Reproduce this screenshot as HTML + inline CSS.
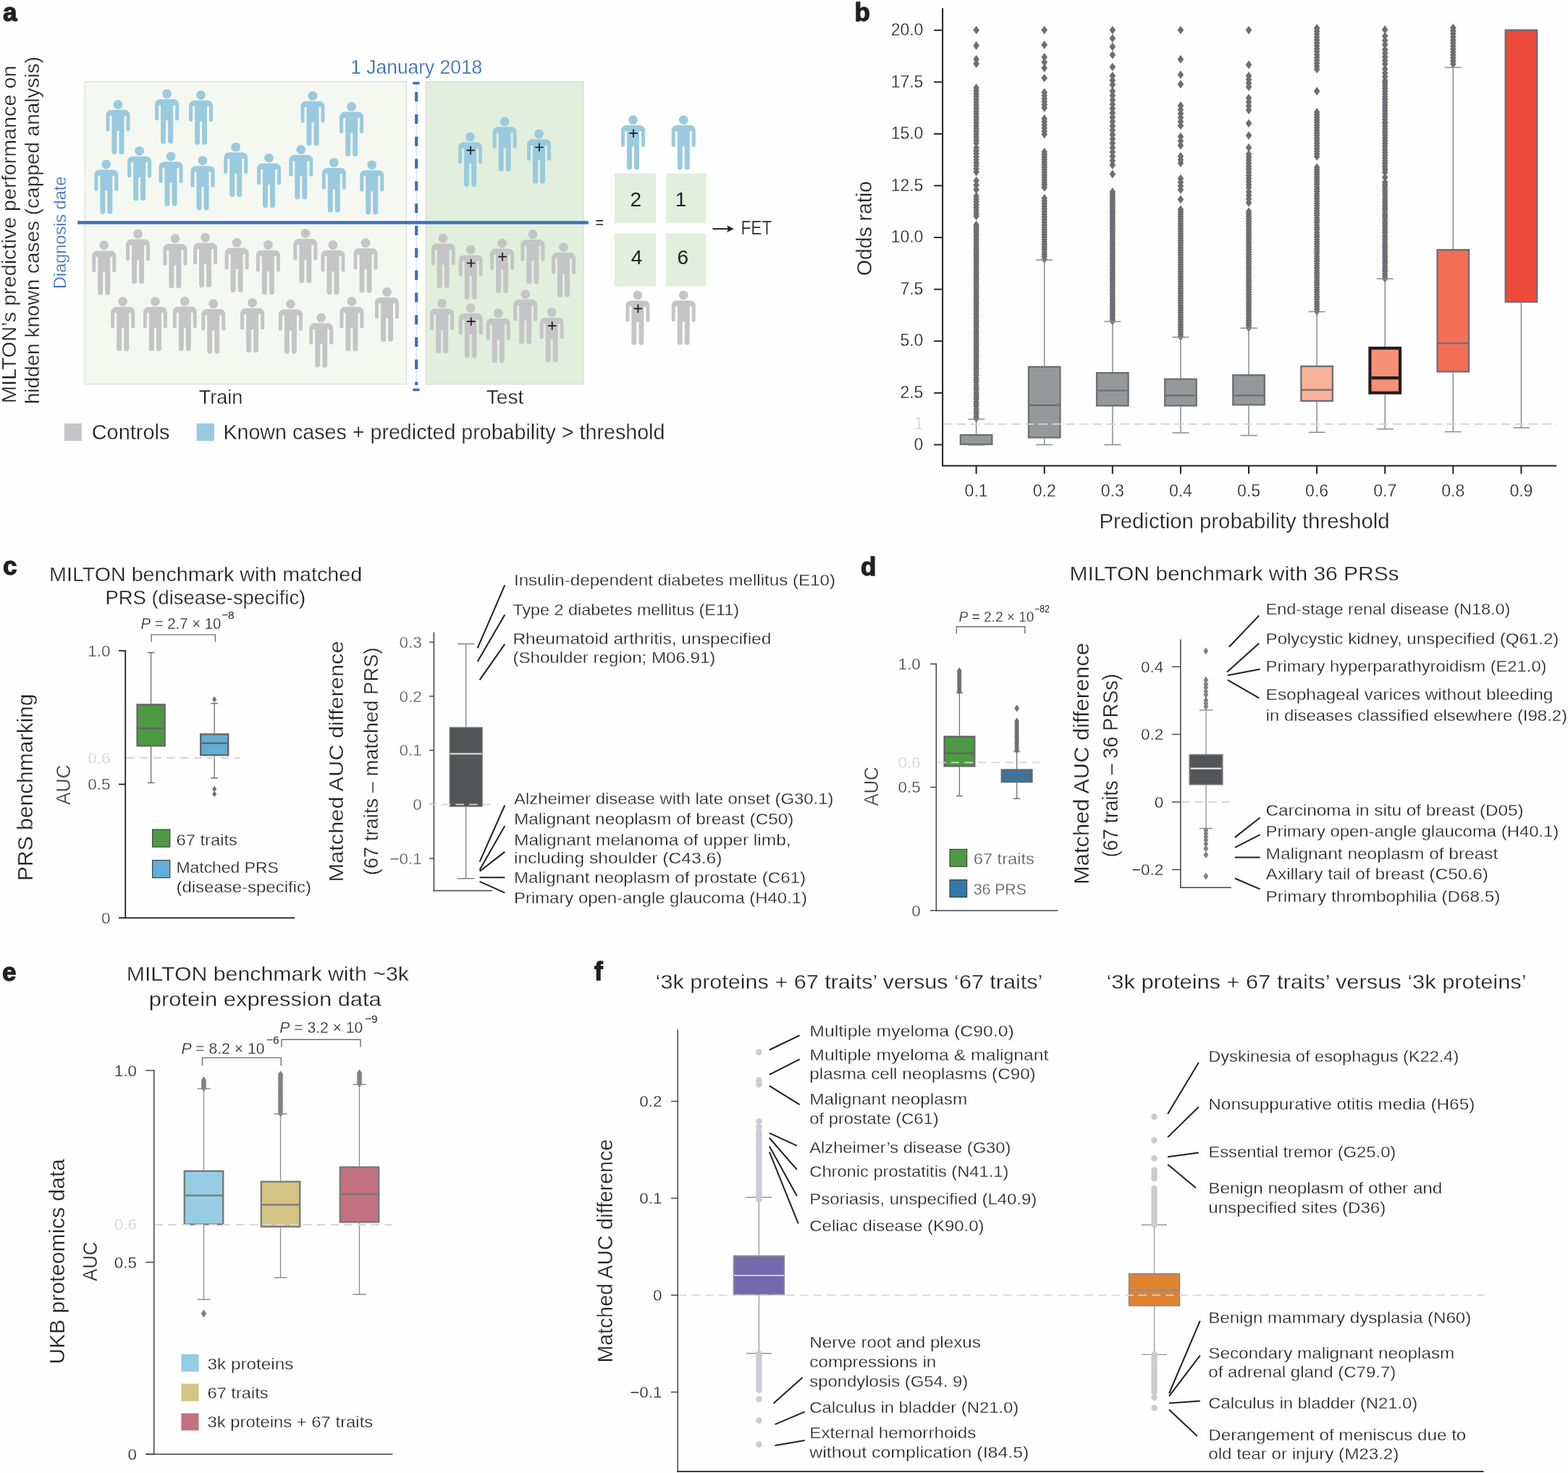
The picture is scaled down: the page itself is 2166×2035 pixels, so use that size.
<!DOCTYPE html>
<html><head><meta charset="utf-8"><title>MILTON figure</title>
<style>
html,body{margin:0;padding:0;background:#fff;}
svg{display:block;}
text{font-family:'Liberation Sans', Arial, sans-serif;}
text.t{stroke:#fff;stroke-width:0.3px;}
</style></head>
<body>
<svg width="2166" height="2035" viewBox="0 0 2166 2035">
<rect width="2166" height="2035" fill="#fefefe"/>
<rect x="117.6" y="112.8" width="443.8" height="418" fill="#f5f8f1" stroke="#d4d6d4" stroke-width="1" />
<rect x="588.3" y="112.8" width="217.6" height="418" fill="#e1efdc" stroke="#d0d4cf" stroke-width="1" />
<rect x="848.8" y="239.3" width="57.5" height="69" fill="#e1efdc" />
<rect x="919.9" y="239.3" width="55.6" height="69" fill="#e1efdc" />
<rect x="848.8" y="322.3" width="57.5" height="73.3" fill="#e1efdc" />
<rect x="919.9" y="322.3" width="55.6" height="73.3" fill="#e1efdc" />
<path transform="translate(163,144.4)" d="M-6.4,0a6.4,6.4 0 1,0 12.8,0a6.4,6.4 0 1,0 -12.8,0ZM-9.5,7.4L9.5,7.4A7,7 0 0 1 16.5,14.4L16.5,34.5A2.5,2.5 0 0 1 11.5,34.5L11.5,15.7L8.5,15.7L8.5,65.3A3.5,3.5 0 0 1 1.5,65.3L1.5,36.6L-1.5,36.6L-1.5,65.3A3.5,3.5 0 0 1 -8.5,65.3L-8.5,15.7L-11.5,15.7L-11.5,34.5A2.5,2.5 0 0 1 -16.5,34.5L-16.5,14.4A7,7 0 0 1 -9.5,7.4Z" fill="#9acadf"/>
<path transform="translate(230.6,129.6)" d="M-6.4,0a6.4,6.4 0 1,0 12.8,0a6.4,6.4 0 1,0 -12.8,0ZM-9.5,7.4L9.5,7.4A7,7 0 0 1 16.5,14.4L16.5,34.5A2.5,2.5 0 0 1 11.5,34.5L11.5,15.7L8.5,15.7L8.5,65.3A3.5,3.5 0 0 1 1.5,65.3L1.5,36.6L-1.5,36.6L-1.5,65.3A3.5,3.5 0 0 1 -8.5,65.3L-8.5,15.7L-11.5,15.7L-11.5,34.5A2.5,2.5 0 0 1 -16.5,34.5L-16.5,14.4A7,7 0 0 1 -9.5,7.4Z" fill="#9acadf"/>
<path transform="translate(277.5,131.3)" d="M-6.4,0a6.4,6.4 0 1,0 12.8,0a6.4,6.4 0 1,0 -12.8,0ZM-9.5,7.4L9.5,7.4A7,7 0 0 1 16.5,14.4L16.5,34.5A2.5,2.5 0 0 1 11.5,34.5L11.5,15.7L8.5,15.7L8.5,65.3A3.5,3.5 0 0 1 1.5,65.3L1.5,36.6L-1.5,36.6L-1.5,65.3A3.5,3.5 0 0 1 -8.5,65.3L-8.5,15.7L-11.5,15.7L-11.5,34.5A2.5,2.5 0 0 1 -16.5,34.5L-16.5,14.4A7,7 0 0 1 -9.5,7.4Z" fill="#9acadf"/>
<path transform="translate(432,132.4)" d="M-6.4,0a6.4,6.4 0 1,0 12.8,0a6.4,6.4 0 1,0 -12.8,0ZM-9.5,7.4L9.5,7.4A7,7 0 0 1 16.5,14.4L16.5,34.5A2.5,2.5 0 0 1 11.5,34.5L11.5,15.7L8.5,15.7L8.5,65.3A3.5,3.5 0 0 1 1.5,65.3L1.5,36.6L-1.5,36.6L-1.5,65.3A3.5,3.5 0 0 1 -8.5,65.3L-8.5,15.7L-11.5,15.7L-11.5,34.5A2.5,2.5 0 0 1 -16.5,34.5L-16.5,14.4A7,7 0 0 1 -9.5,7.4Z" fill="#9acadf"/>
<path transform="translate(485.6,147.2)" d="M-6.4,0a6.4,6.4 0 1,0 12.8,0a6.4,6.4 0 1,0 -12.8,0ZM-9.5,7.4L9.5,7.4A7,7 0 0 1 16.5,14.4L16.5,34.5A2.5,2.5 0 0 1 11.5,34.5L11.5,15.7L8.5,15.7L8.5,65.3A3.5,3.5 0 0 1 1.5,65.3L1.5,36.6L-1.5,36.6L-1.5,65.3A3.5,3.5 0 0 1 -8.5,65.3L-8.5,15.7L-11.5,15.7L-11.5,34.5A2.5,2.5 0 0 1 -16.5,34.5L-16.5,14.4A7,7 0 0 1 -9.5,7.4Z" fill="#9acadf"/>
<path transform="translate(146.8,227)" d="M-6.4,0a6.4,6.4 0 1,0 12.8,0a6.4,6.4 0 1,0 -12.8,0ZM-9.5,7.4L9.5,7.4A7,7 0 0 1 16.5,14.4L16.5,34.5A2.5,2.5 0 0 1 11.5,34.5L11.5,15.7L8.5,15.7L8.5,65.3A3.5,3.5 0 0 1 1.5,65.3L1.5,36.6L-1.5,36.6L-1.5,65.3A3.5,3.5 0 0 1 -8.5,65.3L-8.5,15.7L-11.5,15.7L-11.5,34.5A2.5,2.5 0 0 1 -16.5,34.5L-16.5,14.4A7,7 0 0 1 -9.5,7.4Z" fill="#9acadf"/>
<path transform="translate(192.6,208.5)" d="M-6.4,0a6.4,6.4 0 1,0 12.8,0a6.4,6.4 0 1,0 -12.8,0ZM-9.5,7.4L9.5,7.4A7,7 0 0 1 16.5,14.4L16.5,34.5A2.5,2.5 0 0 1 11.5,34.5L11.5,15.7L8.5,15.7L8.5,65.3A3.5,3.5 0 0 1 1.5,65.3L1.5,36.6L-1.5,36.6L-1.5,65.3A3.5,3.5 0 0 1 -8.5,65.3L-8.5,15.7L-11.5,15.7L-11.5,34.5A2.5,2.5 0 0 1 -16.5,34.5L-16.5,14.4A7,7 0 0 1 -9.5,7.4Z" fill="#9acadf"/>
<path transform="translate(236,216)" d="M-6.4,0a6.4,6.4 0 1,0 12.8,0a6.4,6.4 0 1,0 -12.8,0ZM-9.5,7.4L9.5,7.4A7,7 0 0 1 16.5,14.4L16.5,34.5A2.5,2.5 0 0 1 11.5,34.5L11.5,15.7L8.5,15.7L8.5,65.3A3.5,3.5 0 0 1 1.5,65.3L1.5,36.6L-1.5,36.6L-1.5,65.3A3.5,3.5 0 0 1 -8.5,65.3L-8.5,15.7L-11.5,15.7L-11.5,34.5A2.5,2.5 0 0 1 -16.5,34.5L-16.5,14.4A7,7 0 0 1 -9.5,7.4Z" fill="#9acadf"/>
<path transform="translate(280,221.8)" d="M-6.4,0a6.4,6.4 0 1,0 12.8,0a6.4,6.4 0 1,0 -12.8,0ZM-9.5,7.4L9.5,7.4A7,7 0 0 1 16.5,14.4L16.5,34.5A2.5,2.5 0 0 1 11.5,34.5L11.5,15.7L8.5,15.7L8.5,65.3A3.5,3.5 0 0 1 1.5,65.3L1.5,36.6L-1.5,36.6L-1.5,65.3A3.5,3.5 0 0 1 -8.5,65.3L-8.5,15.7L-11.5,15.7L-11.5,34.5A2.5,2.5 0 0 1 -16.5,34.5L-16.5,14.4A7,7 0 0 1 -9.5,7.4Z" fill="#9acadf"/>
<path transform="translate(325.7,203.2)" d="M-6.4,0a6.4,6.4 0 1,0 12.8,0a6.4,6.4 0 1,0 -12.8,0ZM-9.5,7.4L9.5,7.4A7,7 0 0 1 16.5,14.4L16.5,34.5A2.5,2.5 0 0 1 11.5,34.5L11.5,15.7L8.5,15.7L8.5,65.3A3.5,3.5 0 0 1 1.5,65.3L1.5,36.6L-1.5,36.6L-1.5,65.3A3.5,3.5 0 0 1 -8.5,65.3L-8.5,15.7L-11.5,15.7L-11.5,34.5A2.5,2.5 0 0 1 -16.5,34.5L-16.5,14.4A7,7 0 0 1 -9.5,7.4Z" fill="#9acadf"/>
<path transform="translate(371.5,218.3)" d="M-6.4,0a6.4,6.4 0 1,0 12.8,0a6.4,6.4 0 1,0 -12.8,0ZM-9.5,7.4L9.5,7.4A7,7 0 0 1 16.5,14.4L16.5,34.5A2.5,2.5 0 0 1 11.5,34.5L11.5,15.7L8.5,15.7L8.5,65.3A3.5,3.5 0 0 1 1.5,65.3L1.5,36.6L-1.5,36.6L-1.5,65.3A3.5,3.5 0 0 1 -8.5,65.3L-8.5,15.7L-11.5,15.7L-11.5,34.5A2.5,2.5 0 0 1 -16.5,34.5L-16.5,14.4A7,7 0 0 1 -9.5,7.4Z" fill="#9acadf"/>
<path transform="translate(415.8,206.7)" d="M-6.4,0a6.4,6.4 0 1,0 12.8,0a6.4,6.4 0 1,0 -12.8,0ZM-9.5,7.4L9.5,7.4A7,7 0 0 1 16.5,14.4L16.5,34.5A2.5,2.5 0 0 1 11.5,34.5L11.5,15.7L8.5,15.7L8.5,65.3A3.5,3.5 0 0 1 1.5,65.3L1.5,36.6L-1.5,36.6L-1.5,65.3A3.5,3.5 0 0 1 -8.5,65.3L-8.5,15.7L-11.5,15.7L-11.5,34.5A2.5,2.5 0 0 1 -16.5,34.5L-16.5,14.4A7,7 0 0 1 -9.5,7.4Z" fill="#9acadf"/>
<path transform="translate(461.3,224.6)" d="M-6.4,0a6.4,6.4 0 1,0 12.8,0a6.4,6.4 0 1,0 -12.8,0ZM-9.5,7.4L9.5,7.4A7,7 0 0 1 16.5,14.4L16.5,34.5A2.5,2.5 0 0 1 11.5,34.5L11.5,15.7L8.5,15.7L8.5,65.3A3.5,3.5 0 0 1 1.5,65.3L1.5,36.6L-1.5,36.6L-1.5,65.3A3.5,3.5 0 0 1 -8.5,65.3L-8.5,15.7L-11.5,15.7L-11.5,34.5A2.5,2.5 0 0 1 -16.5,34.5L-16.5,14.4A7,7 0 0 1 -9.5,7.4Z" fill="#9acadf"/>
<path transform="translate(513.7,227.8)" d="M-6.4,0a6.4,6.4 0 1,0 12.8,0a6.4,6.4 0 1,0 -12.8,0ZM-9.5,7.4L9.5,7.4A7,7 0 0 1 16.5,14.4L16.5,34.5A2.5,2.5 0 0 1 11.5,34.5L11.5,15.7L8.5,15.7L8.5,65.3A3.5,3.5 0 0 1 1.5,65.3L1.5,36.6L-1.5,36.6L-1.5,65.3A3.5,3.5 0 0 1 -8.5,65.3L-8.5,15.7L-11.5,15.7L-11.5,34.5A2.5,2.5 0 0 1 -16.5,34.5L-16.5,14.4A7,7 0 0 1 -9.5,7.4Z" fill="#9acadf"/>
<path transform="translate(143.7,339)" d="M-6.4,0a6.4,6.4 0 1,0 12.8,0a6.4,6.4 0 1,0 -12.8,0ZM-9.5,7.4L9.5,7.4A7,7 0 0 1 16.5,14.4L16.5,34.5A2.5,2.5 0 0 1 11.5,34.5L11.5,15.7L8.5,15.7L8.5,65.3A3.5,3.5 0 0 1 1.5,65.3L1.5,36.6L-1.5,36.6L-1.5,65.3A3.5,3.5 0 0 1 -8.5,65.3L-8.5,15.7L-11.5,15.7L-11.5,34.5A2.5,2.5 0 0 1 -16.5,34.5L-16.5,14.4A7,7 0 0 1 -9.5,7.4Z" fill="#c5c5c7"/>
<path transform="translate(190.5,323.2)" d="M-6.4,0a6.4,6.4 0 1,0 12.8,0a6.4,6.4 0 1,0 -12.8,0ZM-9.5,7.4L9.5,7.4A7,7 0 0 1 16.5,14.4L16.5,34.5A2.5,2.5 0 0 1 11.5,34.5L11.5,15.7L8.5,15.7L8.5,65.3A3.5,3.5 0 0 1 1.5,65.3L1.5,36.6L-1.5,36.6L-1.5,65.3A3.5,3.5 0 0 1 -8.5,65.3L-8.5,15.7L-11.5,15.7L-11.5,34.5A2.5,2.5 0 0 1 -16.5,34.5L-16.5,14.4A7,7 0 0 1 -9.5,7.4Z" fill="#c5c5c7"/>
<path transform="translate(241.9,329.6)" d="M-6.4,0a6.4,6.4 0 1,0 12.8,0a6.4,6.4 0 1,0 -12.8,0ZM-9.5,7.4L9.5,7.4A7,7 0 0 1 16.5,14.4L16.5,34.5A2.5,2.5 0 0 1 11.5,34.5L11.5,15.7L8.5,15.7L8.5,65.3A3.5,3.5 0 0 1 1.5,65.3L1.5,36.6L-1.5,36.6L-1.5,65.3A3.5,3.5 0 0 1 -8.5,65.3L-8.5,15.7L-11.5,15.7L-11.5,34.5A2.5,2.5 0 0 1 -16.5,34.5L-16.5,14.4A7,7 0 0 1 -9.5,7.4Z" fill="#c5c5c7"/>
<path transform="translate(283.5,328.2)" d="M-6.4,0a6.4,6.4 0 1,0 12.8,0a6.4,6.4 0 1,0 -12.8,0ZM-9.5,7.4L9.5,7.4A7,7 0 0 1 16.5,14.4L16.5,34.5A2.5,2.5 0 0 1 11.5,34.5L11.5,15.7L8.5,15.7L8.5,65.3A3.5,3.5 0 0 1 1.5,65.3L1.5,36.6L-1.5,36.6L-1.5,65.3A3.5,3.5 0 0 1 -8.5,65.3L-8.5,15.7L-11.5,15.7L-11.5,34.5A2.5,2.5 0 0 1 -16.5,34.5L-16.5,14.4A7,7 0 0 1 -9.5,7.4Z" fill="#c5c5c7"/>
<path transform="translate(327.1,335.2)" d="M-6.4,0a6.4,6.4 0 1,0 12.8,0a6.4,6.4 0 1,0 -12.8,0ZM-9.5,7.4L9.5,7.4A7,7 0 0 1 16.5,14.4L16.5,34.5A2.5,2.5 0 0 1 11.5,34.5L11.5,15.7L8.5,15.7L8.5,65.3A3.5,3.5 0 0 1 1.5,65.3L1.5,36.6L-1.5,36.6L-1.5,65.3A3.5,3.5 0 0 1 -8.5,65.3L-8.5,15.7L-11.5,15.7L-11.5,34.5A2.5,2.5 0 0 1 -16.5,34.5L-16.5,14.4A7,7 0 0 1 -9.5,7.4Z" fill="#c5c5c7"/>
<path transform="translate(370.4,338.4)" d="M-6.4,0a6.4,6.4 0 1,0 12.8,0a6.4,6.4 0 1,0 -12.8,0ZM-9.5,7.4L9.5,7.4A7,7 0 0 1 16.5,14.4L16.5,34.5A2.5,2.5 0 0 1 11.5,34.5L11.5,15.7L8.5,15.7L8.5,65.3A3.5,3.5 0 0 1 1.5,65.3L1.5,36.6L-1.5,36.6L-1.5,65.3A3.5,3.5 0 0 1 -8.5,65.3L-8.5,15.7L-11.5,15.7L-11.5,34.5A2.5,2.5 0 0 1 -16.5,34.5L-16.5,14.4A7,7 0 0 1 -9.5,7.4Z" fill="#c5c5c7"/>
<path transform="translate(421.8,322.5)" d="M-6.4,0a6.4,6.4 0 1,0 12.8,0a6.4,6.4 0 1,0 -12.8,0ZM-9.5,7.4L9.5,7.4A7,7 0 0 1 16.5,14.4L16.5,34.5A2.5,2.5 0 0 1 11.5,34.5L11.5,15.7L8.5,15.7L8.5,65.3A3.5,3.5 0 0 1 1.5,65.3L1.5,36.6L-1.5,36.6L-1.5,65.3A3.5,3.5 0 0 1 -8.5,65.3L-8.5,15.7L-11.5,15.7L-11.5,34.5A2.5,2.5 0 0 1 -16.5,34.5L-16.5,14.4A7,7 0 0 1 -9.5,7.4Z" fill="#c5c5c7"/>
<path transform="translate(459.9,338.4)" d="M-6.4,0a6.4,6.4 0 1,0 12.8,0a6.4,6.4 0 1,0 -12.8,0ZM-9.5,7.4L9.5,7.4A7,7 0 0 1 16.5,14.4L16.5,34.5A2.5,2.5 0 0 1 11.5,34.5L11.5,15.7L8.5,15.7L8.5,65.3A3.5,3.5 0 0 1 1.5,65.3L1.5,36.6L-1.5,36.6L-1.5,65.3A3.5,3.5 0 0 1 -8.5,65.3L-8.5,15.7L-11.5,15.7L-11.5,34.5A2.5,2.5 0 0 1 -16.5,34.5L-16.5,14.4A7,7 0 0 1 -9.5,7.4Z" fill="#c5c5c7"/>
<path transform="translate(505,335.6)" d="M-6.4,0a6.4,6.4 0 1,0 12.8,0a6.4,6.4 0 1,0 -12.8,0ZM-9.5,7.4L9.5,7.4A7,7 0 0 1 16.5,14.4L16.5,34.5A2.5,2.5 0 0 1 11.5,34.5L11.5,15.7L8.5,15.7L8.5,65.3A3.5,3.5 0 0 1 1.5,65.3L1.5,36.6L-1.5,36.6L-1.5,65.3A3.5,3.5 0 0 1 -8.5,65.3L-8.5,15.7L-11.5,15.7L-11.5,34.5A2.5,2.5 0 0 1 -16.5,34.5L-16.5,14.4A7,7 0 0 1 -9.5,7.4Z" fill="#c5c5c7"/>
<path transform="translate(169.7,416.5)" d="M-6.4,0a6.4,6.4 0 1,0 12.8,0a6.4,6.4 0 1,0 -12.8,0ZM-9.5,7.4L9.5,7.4A7,7 0 0 1 16.5,14.4L16.5,34.5A2.5,2.5 0 0 1 11.5,34.5L11.5,15.7L8.5,15.7L8.5,65.3A3.5,3.5 0 0 1 1.5,65.3L1.5,36.6L-1.5,36.6L-1.5,65.3A3.5,3.5 0 0 1 -8.5,65.3L-8.5,15.7L-11.5,15.7L-11.5,34.5A2.5,2.5 0 0 1 -16.5,34.5L-16.5,14.4A7,7 0 0 1 -9.5,7.4Z" fill="#c5c5c7"/>
<path transform="translate(214.4,416.5)" d="M-6.4,0a6.4,6.4 0 1,0 12.8,0a6.4,6.4 0 1,0 -12.8,0ZM-9.5,7.4L9.5,7.4A7,7 0 0 1 16.5,14.4L16.5,34.5A2.5,2.5 0 0 1 11.5,34.5L11.5,15.7L8.5,15.7L8.5,65.3A3.5,3.5 0 0 1 1.5,65.3L1.5,36.6L-1.5,36.6L-1.5,65.3A3.5,3.5 0 0 1 -8.5,65.3L-8.5,15.7L-11.5,15.7L-11.5,34.5A2.5,2.5 0 0 1 -16.5,34.5L-16.5,14.4A7,7 0 0 1 -9.5,7.4Z" fill="#c5c5c7"/>
<path transform="translate(255.3,416.2)" d="M-6.4,0a6.4,6.4 0 1,0 12.8,0a6.4,6.4 0 1,0 -12.8,0ZM-9.5,7.4L9.5,7.4A7,7 0 0 1 16.5,14.4L16.5,34.5A2.5,2.5 0 0 1 11.5,34.5L11.5,15.7L8.5,15.7L8.5,65.3A3.5,3.5 0 0 1 1.5,65.3L1.5,36.6L-1.5,36.6L-1.5,65.3A3.5,3.5 0 0 1 -8.5,65.3L-8.5,15.7L-11.5,15.7L-11.5,34.5A2.5,2.5 0 0 1 -16.5,34.5L-16.5,14.4A7,7 0 0 1 -9.5,7.4Z" fill="#c5c5c7"/>
<path transform="translate(294.7,419.7)" d="M-6.4,0a6.4,6.4 0 1,0 12.8,0a6.4,6.4 0 1,0 -12.8,0ZM-9.5,7.4L9.5,7.4A7,7 0 0 1 16.5,14.4L16.5,34.5A2.5,2.5 0 0 1 11.5,34.5L11.5,15.7L8.5,15.7L8.5,65.3A3.5,3.5 0 0 1 1.5,65.3L1.5,36.6L-1.5,36.6L-1.5,65.3A3.5,3.5 0 0 1 -8.5,65.3L-8.5,15.7L-11.5,15.7L-11.5,34.5A2.5,2.5 0 0 1 -16.5,34.5L-16.5,14.4A7,7 0 0 1 -9.5,7.4Z" fill="#c5c5c7"/>
<path transform="translate(348.6,418.3)" d="M-6.4,0a6.4,6.4 0 1,0 12.8,0a6.4,6.4 0 1,0 -12.8,0ZM-9.5,7.4L9.5,7.4A7,7 0 0 1 16.5,14.4L16.5,34.5A2.5,2.5 0 0 1 11.5,34.5L11.5,15.7L8.5,15.7L8.5,65.3A3.5,3.5 0 0 1 1.5,65.3L1.5,36.6L-1.5,36.6L-1.5,65.3A3.5,3.5 0 0 1 -8.5,65.3L-8.5,15.7L-11.5,15.7L-11.5,34.5A2.5,2.5 0 0 1 -16.5,34.5L-16.5,14.4A7,7 0 0 1 -9.5,7.4Z" fill="#c5c5c7"/>
<path transform="translate(401.4,420)" d="M-6.4,0a6.4,6.4 0 1,0 12.8,0a6.4,6.4 0 1,0 -12.8,0ZM-9.5,7.4L9.5,7.4A7,7 0 0 1 16.5,14.4L16.5,34.5A2.5,2.5 0 0 1 11.5,34.5L11.5,15.7L8.5,15.7L8.5,65.3A3.5,3.5 0 0 1 1.5,65.3L1.5,36.6L-1.5,36.6L-1.5,65.3A3.5,3.5 0 0 1 -8.5,65.3L-8.5,15.7L-11.5,15.7L-11.5,34.5A2.5,2.5 0 0 1 -16.5,34.5L-16.5,14.4A7,7 0 0 1 -9.5,7.4Z" fill="#c5c5c7"/>
<path transform="translate(443.7,439)" d="M-6.4,0a6.4,6.4 0 1,0 12.8,0a6.4,6.4 0 1,0 -12.8,0ZM-9.5,7.4L9.5,7.4A7,7 0 0 1 16.5,14.4L16.5,34.5A2.5,2.5 0 0 1 11.5,34.5L11.5,15.7L8.5,15.7L8.5,65.3A3.5,3.5 0 0 1 1.5,65.3L1.5,36.6L-1.5,36.6L-1.5,65.3A3.5,3.5 0 0 1 -8.5,65.3L-8.5,15.7L-11.5,15.7L-11.5,34.5A2.5,2.5 0 0 1 -16.5,34.5L-16.5,14.4A7,7 0 0 1 -9.5,7.4Z" fill="#c5c5c7"/>
<path transform="translate(485.9,416.5)" d="M-6.4,0a6.4,6.4 0 1,0 12.8,0a6.4,6.4 0 1,0 -12.8,0ZM-9.5,7.4L9.5,7.4A7,7 0 0 1 16.5,14.4L16.5,34.5A2.5,2.5 0 0 1 11.5,34.5L11.5,15.7L8.5,15.7L8.5,65.3A3.5,3.5 0 0 1 1.5,65.3L1.5,36.6L-1.5,36.6L-1.5,65.3A3.5,3.5 0 0 1 -8.5,65.3L-8.5,15.7L-11.5,15.7L-11.5,34.5A2.5,2.5 0 0 1 -16.5,34.5L-16.5,14.4A7,7 0 0 1 -9.5,7.4Z" fill="#c5c5c7"/>
<path transform="translate(534.5,403.5)" d="M-6.4,0a6.4,6.4 0 1,0 12.8,0a6.4,6.4 0 1,0 -12.8,0ZM-9.5,7.4L9.5,7.4A7,7 0 0 1 16.5,14.4L16.5,34.5A2.5,2.5 0 0 1 11.5,34.5L11.5,15.7L8.5,15.7L8.5,65.3A3.5,3.5 0 0 1 1.5,65.3L1.5,36.6L-1.5,36.6L-1.5,65.3A3.5,3.5 0 0 1 -8.5,65.3L-8.5,15.7L-11.5,15.7L-11.5,34.5A2.5,2.5 0 0 1 -16.5,34.5L-16.5,14.4A7,7 0 0 1 -9.5,7.4Z" fill="#c5c5c7"/>
<path transform="translate(649.6,189.2)" d="M-6.4,0a6.4,6.4 0 1,0 12.8,0a6.4,6.4 0 1,0 -12.8,0ZM-9.5,7.4L9.5,7.4A7,7 0 0 1 16.5,14.4L16.5,34.5A2.5,2.5 0 0 1 11.5,34.5L11.5,15.7L8.5,15.7L8.5,65.3A3.5,3.5 0 0 1 1.5,65.3L1.5,36.6L-1.5,36.6L-1.5,65.3A3.5,3.5 0 0 1 -8.5,65.3L-8.5,15.7L-11.5,15.7L-11.5,34.5A2.5,2.5 0 0 1 -16.5,34.5L-16.5,14.4A7,7 0 0 1 -9.5,7.4Z" fill="#9acadf"/>
<path d="M644.3,207.7h11.6M650.1,201.9v11.6" stroke="#1a1a1a" stroke-width="1.7"/>
<path transform="translate(697.2,167.9)" d="M-6.4,0a6.4,6.4 0 1,0 12.8,0a6.4,6.4 0 1,0 -12.8,0ZM-9.5,7.4L9.5,7.4A7,7 0 0 1 16.5,14.4L16.5,34.5A2.5,2.5 0 0 1 11.5,34.5L11.5,15.7L8.5,15.7L8.5,65.3A3.5,3.5 0 0 1 1.5,65.3L1.5,36.6L-1.5,36.6L-1.5,65.3A3.5,3.5 0 0 1 -8.5,65.3L-8.5,15.7L-11.5,15.7L-11.5,34.5A2.5,2.5 0 0 1 -16.5,34.5L-16.5,14.4A7,7 0 0 1 -9.5,7.4Z" fill="#9acadf"/>
<path transform="translate(744.5,185)" d="M-6.4,0a6.4,6.4 0 1,0 12.8,0a6.4,6.4 0 1,0 -12.8,0ZM-9.5,7.4L9.5,7.4A7,7 0 0 1 16.5,14.4L16.5,34.5A2.5,2.5 0 0 1 11.5,34.5L11.5,15.7L8.5,15.7L8.5,65.3A3.5,3.5 0 0 1 1.5,65.3L1.5,36.6L-1.5,36.6L-1.5,65.3A3.5,3.5 0 0 1 -8.5,65.3L-8.5,15.7L-11.5,15.7L-11.5,34.5A2.5,2.5 0 0 1 -16.5,34.5L-16.5,14.4A7,7 0 0 1 -9.5,7.4Z" fill="#9acadf"/>
<path d="M739.2,203.5h11.6M745,197.7v11.6" stroke="#1a1a1a" stroke-width="1.7"/>
<path transform="translate(612.2,329.2)" d="M-6.4,0a6.4,6.4 0 1,0 12.8,0a6.4,6.4 0 1,0 -12.8,0ZM-9.5,7.4L9.5,7.4A7,7 0 0 1 16.5,14.4L16.5,34.5A2.5,2.5 0 0 1 11.5,34.5L11.5,15.7L8.5,15.7L8.5,65.3A3.5,3.5 0 0 1 1.5,65.3L1.5,36.6L-1.5,36.6L-1.5,65.3A3.5,3.5 0 0 1 -8.5,65.3L-8.5,15.7L-11.5,15.7L-11.5,34.5A2.5,2.5 0 0 1 -16.5,34.5L-16.5,14.4A7,7 0 0 1 -9.5,7.4Z" fill="#c5c5c7"/>
<path transform="translate(650.2,345)" d="M-6.4,0a6.4,6.4 0 1,0 12.8,0a6.4,6.4 0 1,0 -12.8,0ZM-9.5,7.4L9.5,7.4A7,7 0 0 1 16.5,14.4L16.5,34.5A2.5,2.5 0 0 1 11.5,34.5L11.5,15.7L8.5,15.7L8.5,65.3A3.5,3.5 0 0 1 1.5,65.3L1.5,36.6L-1.5,36.6L-1.5,65.3A3.5,3.5 0 0 1 -8.5,65.3L-8.5,15.7L-11.5,15.7L-11.5,34.5A2.5,2.5 0 0 1 -16.5,34.5L-16.5,14.4A7,7 0 0 1 -9.5,7.4Z" fill="#c5c5c7"/>
<path d="M644.9,363.5h11.6M650.7,357.7v11.6" stroke="#1a1a1a" stroke-width="1.7"/>
<path transform="translate(693.6,336.1)" d="M-6.4,0a6.4,6.4 0 1,0 12.8,0a6.4,6.4 0 1,0 -12.8,0ZM-9.5,7.4L9.5,7.4A7,7 0 0 1 16.5,14.4L16.5,34.5A2.5,2.5 0 0 1 11.5,34.5L11.5,15.7L8.5,15.7L8.5,65.3A3.5,3.5 0 0 1 1.5,65.3L1.5,36.6L-1.5,36.6L-1.5,65.3A3.5,3.5 0 0 1 -8.5,65.3L-8.5,15.7L-11.5,15.7L-11.5,34.5A2.5,2.5 0 0 1 -16.5,34.5L-16.5,14.4A7,7 0 0 1 -9.5,7.4Z" fill="#c5c5c7"/>
<path d="M688.3,354.6h11.6M694.1,348.8v11.6" stroke="#1a1a1a" stroke-width="1.7"/>
<path transform="translate(735.9,323.7)" d="M-6.4,0a6.4,6.4 0 1,0 12.8,0a6.4,6.4 0 1,0 -12.8,0ZM-9.5,7.4L9.5,7.4A7,7 0 0 1 16.5,14.4L16.5,34.5A2.5,2.5 0 0 1 11.5,34.5L11.5,15.7L8.5,15.7L8.5,65.3A3.5,3.5 0 0 1 1.5,65.3L1.5,36.6L-1.5,36.6L-1.5,65.3A3.5,3.5 0 0 1 -8.5,65.3L-8.5,15.7L-11.5,15.7L-11.5,34.5A2.5,2.5 0 0 1 -16.5,34.5L-16.5,14.4A7,7 0 0 1 -9.5,7.4Z" fill="#c5c5c7"/>
<path transform="translate(778.5,341.6)" d="M-6.4,0a6.4,6.4 0 1,0 12.8,0a6.4,6.4 0 1,0 -12.8,0ZM-9.5,7.4L9.5,7.4A7,7 0 0 1 16.5,14.4L16.5,34.5A2.5,2.5 0 0 1 11.5,34.5L11.5,15.7L8.5,15.7L8.5,65.3A3.5,3.5 0 0 1 1.5,65.3L1.5,36.6L-1.5,36.6L-1.5,65.3A3.5,3.5 0 0 1 -8.5,65.3L-8.5,15.7L-11.5,15.7L-11.5,34.5A2.5,2.5 0 0 1 -16.5,34.5L-16.5,14.4A7,7 0 0 1 -9.5,7.4Z" fill="#c5c5c7"/>
<path transform="translate(610.6,419.1)" d="M-6.4,0a6.4,6.4 0 1,0 12.8,0a6.4,6.4 0 1,0 -12.8,0ZM-9.5,7.4L9.5,7.4A7,7 0 0 1 16.5,14.4L16.5,34.5A2.5,2.5 0 0 1 11.5,34.5L11.5,15.7L8.5,15.7L8.5,65.3A3.5,3.5 0 0 1 1.5,65.3L1.5,36.6L-1.5,36.6L-1.5,65.3A3.5,3.5 0 0 1 -8.5,65.3L-8.5,15.7L-11.5,15.7L-11.5,34.5A2.5,2.5 0 0 1 -16.5,34.5L-16.5,14.4A7,7 0 0 1 -9.5,7.4Z" fill="#c5c5c7"/>
<path transform="translate(650.2,425.7)" d="M-6.4,0a6.4,6.4 0 1,0 12.8,0a6.4,6.4 0 1,0 -12.8,0ZM-9.5,7.4L9.5,7.4A7,7 0 0 1 16.5,14.4L16.5,34.5A2.5,2.5 0 0 1 11.5,34.5L11.5,15.7L8.5,15.7L8.5,65.3A3.5,3.5 0 0 1 1.5,65.3L1.5,36.6L-1.5,36.6L-1.5,65.3A3.5,3.5 0 0 1 -8.5,65.3L-8.5,15.7L-11.5,15.7L-11.5,34.5A2.5,2.5 0 0 1 -16.5,34.5L-16.5,14.4A7,7 0 0 1 -9.5,7.4Z" fill="#c5c5c7"/>
<path d="M644.9,444.2h11.6M650.7,438.4v11.6" stroke="#1a1a1a" stroke-width="1.7"/>
<path transform="translate(688.3,432.7)" d="M-6.4,0a6.4,6.4 0 1,0 12.8,0a6.4,6.4 0 1,0 -12.8,0ZM-9.5,7.4L9.5,7.4A7,7 0 0 1 16.5,14.4L16.5,34.5A2.5,2.5 0 0 1 11.5,34.5L11.5,15.7L8.5,15.7L8.5,65.3A3.5,3.5 0 0 1 1.5,65.3L1.5,36.6L-1.5,36.6L-1.5,65.3A3.5,3.5 0 0 1 -8.5,65.3L-8.5,15.7L-11.5,15.7L-11.5,34.5A2.5,2.5 0 0 1 -16.5,34.5L-16.5,14.4A7,7 0 0 1 -9.5,7.4Z" fill="#c5c5c7"/>
<path transform="translate(725.7,406.4)" d="M-6.4,0a6.4,6.4 0 1,0 12.8,0a6.4,6.4 0 1,0 -12.8,0ZM-9.5,7.4L9.5,7.4A7,7 0 0 1 16.5,14.4L16.5,34.5A2.5,2.5 0 0 1 11.5,34.5L11.5,15.7L8.5,15.7L8.5,65.3A3.5,3.5 0 0 1 1.5,65.3L1.5,36.6L-1.5,36.6L-1.5,65.3A3.5,3.5 0 0 1 -8.5,65.3L-8.5,15.7L-11.5,15.7L-11.5,34.5A2.5,2.5 0 0 1 -16.5,34.5L-16.5,14.4A7,7 0 0 1 -9.5,7.4Z" fill="#c5c5c7"/>
<path transform="translate(762.2,431.6)" d="M-6.4,0a6.4,6.4 0 1,0 12.8,0a6.4,6.4 0 1,0 -12.8,0ZM-9.5,7.4L9.5,7.4A7,7 0 0 1 16.5,14.4L16.5,34.5A2.5,2.5 0 0 1 11.5,34.5L11.5,15.7L8.5,15.7L8.5,65.3A3.5,3.5 0 0 1 1.5,65.3L1.5,36.6L-1.5,36.6L-1.5,65.3A3.5,3.5 0 0 1 -8.5,65.3L-8.5,15.7L-11.5,15.7L-11.5,34.5A2.5,2.5 0 0 1 -16.5,34.5L-16.5,14.4A7,7 0 0 1 -9.5,7.4Z" fill="#c5c5c7"/>
<path d="M756.9,450.1h11.6M762.7,444.3v11.6" stroke="#1a1a1a" stroke-width="1.7"/>
<path transform="translate(874.5,165.7)" d="M-6.4,0a6.4,6.4 0 1,0 12.8,0a6.4,6.4 0 1,0 -12.8,0ZM-9.5,7.4L9.5,7.4A7,7 0 0 1 16.5,14.4L16.5,34.5A2.5,2.5 0 0 1 11.5,34.5L11.5,15.7L8.5,15.7L8.5,65.3A3.5,3.5 0 0 1 1.5,65.3L1.5,36.6L-1.5,36.6L-1.5,65.3A3.5,3.5 0 0 1 -8.5,65.3L-8.5,15.7L-11.5,15.7L-11.5,34.5A2.5,2.5 0 0 1 -16.5,34.5L-16.5,14.4A7,7 0 0 1 -9.5,7.4Z" fill="#9acadf"/>
<path d="M869.2,184.2h11.6M875,178.4v11.6" stroke="#1a1a1a" stroke-width="1.7"/>
<path transform="translate(944.2,165.7)" d="M-6.4,0a6.4,6.4 0 1,0 12.8,0a6.4,6.4 0 1,0 -12.8,0ZM-9.5,7.4L9.5,7.4A7,7 0 0 1 16.5,14.4L16.5,34.5A2.5,2.5 0 0 1 11.5,34.5L11.5,15.7L8.5,15.7L8.5,65.3A3.5,3.5 0 0 1 1.5,65.3L1.5,36.6L-1.5,36.6L-1.5,65.3A3.5,3.5 0 0 1 -8.5,65.3L-8.5,15.7L-11.5,15.7L-11.5,34.5A2.5,2.5 0 0 1 -16.5,34.5L-16.5,14.4A7,7 0 0 1 -9.5,7.4Z" fill="#9acadf"/>
<path transform="translate(880.9,407.8)" d="M-6.4,0a6.4,6.4 0 1,0 12.8,0a6.4,6.4 0 1,0 -12.8,0ZM-9.5,7.4L9.5,7.4A7,7 0 0 1 16.5,14.4L16.5,34.5A2.5,2.5 0 0 1 11.5,34.5L11.5,15.7L8.5,15.7L8.5,65.3A3.5,3.5 0 0 1 1.5,65.3L1.5,36.6L-1.5,36.6L-1.5,65.3A3.5,3.5 0 0 1 -8.5,65.3L-8.5,15.7L-11.5,15.7L-11.5,34.5A2.5,2.5 0 0 1 -16.5,34.5L-16.5,14.4A7,7 0 0 1 -9.5,7.4Z" fill="#c5c5c7"/>
<path d="M875.6,426.3h11.6M881.4,420.5v11.6" stroke="#1a1a1a" stroke-width="1.7"/>
<path transform="translate(944.2,407.8)" d="M-6.4,0a6.4,6.4 0 1,0 12.8,0a6.4,6.4 0 1,0 -12.8,0ZM-9.5,7.4L9.5,7.4A7,7 0 0 1 16.5,14.4L16.5,34.5A2.5,2.5 0 0 1 11.5,34.5L11.5,15.7L8.5,15.7L8.5,65.3A3.5,3.5 0 0 1 1.5,65.3L1.5,36.6L-1.5,36.6L-1.5,65.3A3.5,3.5 0 0 1 -8.5,65.3L-8.5,15.7L-11.5,15.7L-11.5,34.5A2.5,2.5 0 0 1 -16.5,34.5L-16.5,14.4A7,7 0 0 1 -9.5,7.4Z" fill="#c5c5c7"/>
<line x1="575.2" y1="116" x2="575.2" y2="538" stroke="#c9d8ee" stroke-width="1.1" />
<line x1="575.2" y1="127.2" x2="575.2" y2="532" stroke="#3f6fb8" stroke-width="4.2" stroke-dasharray="13.1 17.7"/>
<rect x="570.2" y="113.1" width="9.4" height="3.5" fill="#3f6fb8" />
<rect x="570.2" y="536.8" width="9.4" height="3.5" fill="#3f6fb8" />
<line x1="107.2" y1="307.5" x2="812.8" y2="307.5" stroke="#3f72b9" stroke-width="4.5" />
<text x="4" y="28.8" font-size="35" fill="#231f20" font-weight="bold" stroke="#231f20" stroke-width="1.3">a</text>
<text x="484.3" y="102.3" font-size="28.2" fill="#3a6db5" textLength="182" lengthAdjust="spacingAndGlyphs" class="t">1 January 2018</text>
<text transform="translate(91.3,399) rotate(-90)" font-size="24" fill="#3a6db5" textLength="155.3" lengthAdjust="spacingAndGlyphs" class="t">Diagnosis date</text>
<text transform="translate(21.5,557) rotate(-90)" font-size="28" fill="#231f20" textLength="466.4" lengthAdjust="spacingAndGlyphs" class="t">MILTON’s predictive performance on</text>
<text transform="translate(54,558.3) rotate(-90)" font-size="28" fill="#231f20" textLength="480.2" lengthAdjust="spacingAndGlyphs" class="t">hidden known cases (capped analysis)</text>
<text x="274.7" y="558.1" font-size="28.5" fill="#231f20" textLength="60.5" lengthAdjust="spacingAndGlyphs" class="t">Train</text>
<text x="671.8" y="558.1" font-size="28.5" fill="#231f20" textLength="51.5" lengthAdjust="spacingAndGlyphs" class="t">Test</text>
<rect x="88.7" y="584.9" width="24.2" height="24.2" fill="#c5c5c7" />
<rect x="271.6" y="584.9" width="24.3" height="24.2" fill="#9acadf" />
<text x="126.7" y="606.8" font-size="28.8" fill="#231f20" textLength="107.7" lengthAdjust="spacingAndGlyphs" class="t">Controls</text>
<text x="308.4" y="606.8" font-size="28.8" fill="#231f20" textLength="610" lengthAdjust="spacingAndGlyphs" class="t">Known cases + predicted probability &gt; threshold</text>
<text x="822.6" y="315" font-size="22.5" fill="#231f20" textLength="11.5" lengthAdjust="spacingAndGlyphs">=</text>
<text x="878.4" y="285" font-size="28" text-anchor="middle" fill="#231f20">2</text>
<text x="940.5" y="285" font-size="28" text-anchor="middle" fill="#231f20">1</text>
<text x="879.5" y="365" font-size="28" text-anchor="middle" fill="#231f20">4</text>
<text x="943.4" y="365" font-size="28" text-anchor="middle" fill="#231f20">6</text>
<line x1="984.4" y1="316.2" x2="1008" y2="316.2" stroke="#231f20" stroke-width="2" />
<path d="M1013.8,316.2L1004,311.3L1006,316.2L1004,321.1Z" fill="#231f20" />
<text x="1023.5" y="324" font-size="27.5" fill="#231f20" textLength="42.8" lengthAdjust="spacingAndGlyphs" class="t">FET</text>
<line x1="1302.1" y1="11.3" x2="1302.1" y2="643.4" stroke="#231f20" stroke-width="2" />
<line x1="1301.1" y1="643.4" x2="2150" y2="643.4" stroke="#231f20" stroke-width="2" />
<line x1="1290.1" y1="41.8" x2="1302.1" y2="41.8" stroke="#231f20" stroke-width="1.9" />
<text x="1275.4" y="49" font-size="23" text-anchor="end" fill="#231f20" class="t">20.0</text>
<line x1="1290.1" y1="113.38" x2="1302.1" y2="113.38" stroke="#231f20" stroke-width="1.9" />
<text x="1275.4" y="120.58" font-size="23" text-anchor="end" fill="#231f20" class="t">17.5</text>
<line x1="1290.1" y1="184.95" x2="1302.1" y2="184.95" stroke="#231f20" stroke-width="1.9" />
<text x="1275.4" y="192.15" font-size="23" text-anchor="end" fill="#231f20" class="t">15.0</text>
<line x1="1290.1" y1="256.52" x2="1302.1" y2="256.52" stroke="#231f20" stroke-width="1.9" />
<text x="1275.4" y="263.72" font-size="23" text-anchor="end" fill="#231f20" class="t">12.5</text>
<line x1="1290.1" y1="328.1" x2="1302.1" y2="328.1" stroke="#231f20" stroke-width="1.9" />
<text x="1275.4" y="335.3" font-size="23" text-anchor="end" fill="#231f20" class="t">10.0</text>
<line x1="1290.1" y1="399.67" x2="1302.1" y2="399.67" stroke="#231f20" stroke-width="1.9" />
<text x="1275.4" y="406.87" font-size="23" text-anchor="end" fill="#231f20" class="t">7.5</text>
<line x1="1290.1" y1="471.25" x2="1302.1" y2="471.25" stroke="#231f20" stroke-width="1.9" />
<text x="1275.4" y="478.45" font-size="23" text-anchor="end" fill="#231f20" class="t">5.0</text>
<line x1="1290.1" y1="542.82" x2="1302.1" y2="542.82" stroke="#231f20" stroke-width="1.9" />
<text x="1275.4" y="550.02" font-size="23" text-anchor="end" fill="#231f20" class="t">2.5</text>
<line x1="1290.1" y1="614.4" x2="1302.1" y2="614.4" stroke="#231f20" stroke-width="1.9" />
<text x="1275.4" y="621.6" font-size="23" text-anchor="end" fill="#231f20" class="t">0</text>
<text x="1275.4" y="593.2" font-size="23" text-anchor="end" fill="#d1d3d4" class="t">1</text>
<line x1="1348.6" y1="643.4" x2="1348.6" y2="654.6" stroke="#231f20" stroke-width="2" />
<text x="1348.6" y="686.3" font-size="23" text-anchor="middle" fill="#231f20" class="t">0.1</text>
<line x1="1442.7" y1="643.4" x2="1442.7" y2="654.6" stroke="#231f20" stroke-width="2" />
<text x="1442.7" y="686.3" font-size="23" text-anchor="middle" fill="#231f20" class="t">0.2</text>
<line x1="1536.8" y1="643.4" x2="1536.8" y2="654.6" stroke="#231f20" stroke-width="2" />
<text x="1536.8" y="686.3" font-size="23" text-anchor="middle" fill="#231f20" class="t">0.3</text>
<line x1="1630.9" y1="643.4" x2="1630.9" y2="654.6" stroke="#231f20" stroke-width="2" />
<text x="1630.9" y="686.3" font-size="23" text-anchor="middle" fill="#231f20" class="t">0.4</text>
<line x1="1725" y1="643.4" x2="1725" y2="654.6" stroke="#231f20" stroke-width="2" />
<text x="1725" y="686.3" font-size="23" text-anchor="middle" fill="#231f20" class="t">0.5</text>
<line x1="1819.1" y1="643.4" x2="1819.1" y2="654.6" stroke="#231f20" stroke-width="2" />
<text x="1819.1" y="686.3" font-size="23" text-anchor="middle" fill="#231f20" class="t">0.6</text>
<line x1="1913.2" y1="643.4" x2="1913.2" y2="654.6" stroke="#231f20" stroke-width="2" />
<text x="1913.2" y="686.3" font-size="23" text-anchor="middle" fill="#231f20" class="t">0.7</text>
<line x1="2007.3" y1="643.4" x2="2007.3" y2="654.6" stroke="#231f20" stroke-width="2" />
<text x="2007.3" y="686.3" font-size="23" text-anchor="middle" fill="#231f20" class="t">0.8</text>
<line x1="2101.4" y1="643.4" x2="2101.4" y2="654.6" stroke="#231f20" stroke-width="2" />
<text x="2101.4" y="686.3" font-size="23" text-anchor="middle" fill="#231f20" class="t">0.9</text>
<text transform="translate(1204,381) rotate(-90)" font-size="29" fill="#231f20" textLength="130.7" lengthAdjust="spacingAndGlyphs" class="t">Odds ratio</text>
<text x="1518.4" y="729.5" font-size="29" fill="#231f20" textLength="401.2" lengthAdjust="spacingAndGlyphs" class="t">Prediction probability threshold</text>
<text x="1180.5" y="29" font-size="35" fill="#231f20" font-weight="bold" stroke="#231f20" stroke-width="1.3">b</text>
<path d="M1348.6,35.7l4.3,5.9l-4.3,5.9l-4.3,-5.9ZM1348.6,57.1l4.3,5.9l-4.3,5.9l-4.3,-5.9ZM1348.6,76l4.3,5.9l-4.3,5.9l-4.3,-5.9ZM1348.6,82.1l4.3,5.9l-4.3,5.9l-4.3,-5.9ZM1348.6,115.6l4.3,5.9l-4.3,5.9l-4.3,-5.9ZM1348.6,119.62l4.3,5.9l-4.3,5.9l-4.3,-5.9ZM1348.6,123.63l4.3,5.9l-4.3,5.9l-4.3,-5.9ZM1348.6,127.65l4.3,5.9l-4.3,5.9l-4.3,-5.9ZM1348.6,131.66l4.3,5.9l-4.3,5.9l-4.3,-5.9ZM1348.6,135.68l4.3,5.9l-4.3,5.9l-4.3,-5.9ZM1348.6,139.69l4.3,5.9l-4.3,5.9l-4.3,-5.9ZM1348.6,143.71l4.3,5.9l-4.3,5.9l-4.3,-5.9ZM1348.6,147.73l4.3,5.9l-4.3,5.9l-4.3,-5.9ZM1348.6,151.74l4.3,5.9l-4.3,5.9l-4.3,-5.9ZM1348.6,155.76l4.3,5.9l-4.3,5.9l-4.3,-5.9ZM1348.6,159.77l4.3,5.9l-4.3,5.9l-4.3,-5.9ZM1348.6,163.79l4.3,5.9l-4.3,5.9l-4.3,-5.9ZM1348.6,167.81l4.3,5.9l-4.3,5.9l-4.3,-5.9ZM1348.6,171.82l4.3,5.9l-4.3,5.9l-4.3,-5.9ZM1348.6,175.84l4.3,5.9l-4.3,5.9l-4.3,-5.9ZM1348.6,179.85l4.3,5.9l-4.3,5.9l-4.3,-5.9ZM1348.6,183.87l4.3,5.9l-4.3,5.9l-4.3,-5.9ZM1348.6,187.88l4.3,5.9l-4.3,5.9l-4.3,-5.9ZM1348.6,191.9l4.3,5.9l-4.3,5.9l-4.3,-5.9ZM1348.6,198.1l4.3,5.9l-4.3,5.9l-4.3,-5.9ZM1348.6,202.29l4.3,5.9l-4.3,5.9l-4.3,-5.9ZM1348.6,206.47l4.3,5.9l-4.3,5.9l-4.3,-5.9ZM1348.6,210.66l4.3,5.9l-4.3,5.9l-4.3,-5.9ZM1348.6,214.85l4.3,5.9l-4.3,5.9l-4.3,-5.9ZM1348.6,219.04l4.3,5.9l-4.3,5.9l-4.3,-5.9ZM1348.6,223.22l4.3,5.9l-4.3,5.9l-4.3,-5.9ZM1348.6,227.41l4.3,5.9l-4.3,5.9l-4.3,-5.9ZM1348.6,231.6l4.3,5.9l-4.3,5.9l-4.3,-5.9ZM1348.6,243.8l4.3,5.9l-4.3,5.9l-4.3,-5.9ZM1348.6,249.95l4.3,5.9l-4.3,5.9l-4.3,-5.9ZM1348.6,256.1l4.3,5.9l-4.3,5.9l-4.3,-5.9ZM1348.6,265.1l4.3,5.9l-4.3,5.9l-4.3,-5.9ZM1348.6,269.03l4.3,5.9l-4.3,5.9l-4.3,-5.9ZM1348.6,272.96l4.3,5.9l-4.3,5.9l-4.3,-5.9ZM1348.6,276.89l4.3,5.9l-4.3,5.9l-4.3,-5.9ZM1348.6,280.81l4.3,5.9l-4.3,5.9l-4.3,-5.9ZM1348.6,284.74l4.3,5.9l-4.3,5.9l-4.3,-5.9ZM1348.6,288.67l4.3,5.9l-4.3,5.9l-4.3,-5.9ZM1348.6,292.6l4.3,5.9l-4.3,5.9l-4.3,-5.9ZM1348.6,304.8l4.3,5.9l-4.3,5.9l-4.3,-5.9ZM1348.6,308.1l4.3,5.9l-4.3,5.9l-4.3,-5.9ZM1348.6,311.4l4.3,5.9l-4.3,5.9l-4.3,-5.9ZM1348.6,314.7l4.3,5.9l-4.3,5.9l-4.3,-5.9ZM1348.6,318l4.3,5.9l-4.3,5.9l-4.3,-5.9ZM1348.6,321.3l4.3,5.9l-4.3,5.9l-4.3,-5.9ZM1348.6,324.6l4.3,5.9l-4.3,5.9l-4.3,-5.9ZM1348.6,327.9l4.3,5.9l-4.3,5.9l-4.3,-5.9ZM1348.6,331.2l4.3,5.9l-4.3,5.9l-4.3,-5.9ZM1348.6,334.5l4.3,5.9l-4.3,5.9l-4.3,-5.9ZM1348.6,337.8l4.3,5.9l-4.3,5.9l-4.3,-5.9ZM1348.6,341.1l4.3,5.9l-4.3,5.9l-4.3,-5.9ZM1348.6,344.4l4.3,5.9l-4.3,5.9l-4.3,-5.9ZM1348.6,347.7l4.3,5.9l-4.3,5.9l-4.3,-5.9ZM1348.6,351l4.3,5.9l-4.3,5.9l-4.3,-5.9ZM1348.6,354.3l4.3,5.9l-4.3,5.9l-4.3,-5.9ZM1348.6,357.6l4.3,5.9l-4.3,5.9l-4.3,-5.9ZM1348.6,360.9l4.3,5.9l-4.3,5.9l-4.3,-5.9ZM1348.6,364.2l4.3,5.9l-4.3,5.9l-4.3,-5.9ZM1348.6,367.5l4.3,5.9l-4.3,5.9l-4.3,-5.9ZM1348.6,370.8l4.3,5.9l-4.3,5.9l-4.3,-5.9ZM1348.6,374.1l4.3,5.9l-4.3,5.9l-4.3,-5.9ZM1348.6,377.4l4.3,5.9l-4.3,5.9l-4.3,-5.9ZM1348.6,380.7l4.3,5.9l-4.3,5.9l-4.3,-5.9ZM1348.6,384l4.3,5.9l-4.3,5.9l-4.3,-5.9ZM1348.6,387.3l4.3,5.9l-4.3,5.9l-4.3,-5.9ZM1348.6,390.6l4.3,5.9l-4.3,5.9l-4.3,-5.9ZM1348.6,393.9l4.3,5.9l-4.3,5.9l-4.3,-5.9ZM1348.6,397.2l4.3,5.9l-4.3,5.9l-4.3,-5.9ZM1348.6,400.5l4.3,5.9l-4.3,5.9l-4.3,-5.9ZM1348.6,403.8l4.3,5.9l-4.3,5.9l-4.3,-5.9ZM1348.6,407.1l4.3,5.9l-4.3,5.9l-4.3,-5.9ZM1348.6,410.4l4.3,5.9l-4.3,5.9l-4.3,-5.9ZM1348.6,413.7l4.3,5.9l-4.3,5.9l-4.3,-5.9ZM1348.6,417l4.3,5.9l-4.3,5.9l-4.3,-5.9ZM1348.6,420.3l4.3,5.9l-4.3,5.9l-4.3,-5.9ZM1348.6,423.6l4.3,5.9l-4.3,5.9l-4.3,-5.9ZM1348.6,426.9l4.3,5.9l-4.3,5.9l-4.3,-5.9ZM1348.6,430.2l4.3,5.9l-4.3,5.9l-4.3,-5.9ZM1348.6,433.5l4.3,5.9l-4.3,5.9l-4.3,-5.9ZM1348.6,436.8l4.3,5.9l-4.3,5.9l-4.3,-5.9ZM1348.6,440.1l4.3,5.9l-4.3,5.9l-4.3,-5.9ZM1348.6,443.4l4.3,5.9l-4.3,5.9l-4.3,-5.9ZM1348.6,446.7l4.3,5.9l-4.3,5.9l-4.3,-5.9ZM1348.6,450l4.3,5.9l-4.3,5.9l-4.3,-5.9ZM1348.6,453.3l4.3,5.9l-4.3,5.9l-4.3,-5.9ZM1348.6,456.6l4.3,5.9l-4.3,5.9l-4.3,-5.9ZM1348.6,459.9l4.3,5.9l-4.3,5.9l-4.3,-5.9ZM1348.6,463.2l4.3,5.9l-4.3,5.9l-4.3,-5.9ZM1348.6,466.5l4.3,5.9l-4.3,5.9l-4.3,-5.9ZM1348.6,469.8l4.3,5.9l-4.3,5.9l-4.3,-5.9ZM1348.6,473.1l4.3,5.9l-4.3,5.9l-4.3,-5.9ZM1348.6,476.4l4.3,5.9l-4.3,5.9l-4.3,-5.9ZM1348.6,479.7l4.3,5.9l-4.3,5.9l-4.3,-5.9ZM1348.6,483l4.3,5.9l-4.3,5.9l-4.3,-5.9ZM1348.6,486.3l4.3,5.9l-4.3,5.9l-4.3,-5.9ZM1348.6,489.6l4.3,5.9l-4.3,5.9l-4.3,-5.9ZM1348.6,492.9l4.3,5.9l-4.3,5.9l-4.3,-5.9ZM1348.6,496.2l4.3,5.9l-4.3,5.9l-4.3,-5.9ZM1348.6,499.5l4.3,5.9l-4.3,5.9l-4.3,-5.9ZM1348.6,502.8l4.3,5.9l-4.3,5.9l-4.3,-5.9ZM1348.6,506.1l4.3,5.9l-4.3,5.9l-4.3,-5.9ZM1348.6,509.4l4.3,5.9l-4.3,5.9l-4.3,-5.9ZM1348.6,512.7l4.3,5.9l-4.3,5.9l-4.3,-5.9ZM1348.6,516l4.3,5.9l-4.3,5.9l-4.3,-5.9ZM1348.6,519.3l4.3,5.9l-4.3,5.9l-4.3,-5.9ZM1348.6,522.6l4.3,5.9l-4.3,5.9l-4.3,-5.9ZM1348.6,525.9l4.3,5.9l-4.3,5.9l-4.3,-5.9ZM1348.6,529.2l4.3,5.9l-4.3,5.9l-4.3,-5.9ZM1348.6,532.5l4.3,5.9l-4.3,5.9l-4.3,-5.9ZM1348.6,535.8l4.3,5.9l-4.3,5.9l-4.3,-5.9ZM1348.6,539.1l4.3,5.9l-4.3,5.9l-4.3,-5.9ZM1348.6,542.4l4.3,5.9l-4.3,5.9l-4.3,-5.9ZM1348.6,545.7l4.3,5.9l-4.3,5.9l-4.3,-5.9ZM1348.6,549l4.3,5.9l-4.3,5.9l-4.3,-5.9ZM1348.6,552.3l4.3,5.9l-4.3,5.9l-4.3,-5.9ZM1348.6,555.6l4.3,5.9l-4.3,5.9l-4.3,-5.9ZM1348.6,558.9l4.3,5.9l-4.3,5.9l-4.3,-5.9ZM1348.6,562.2l4.3,5.9l-4.3,5.9l-4.3,-5.9ZM1348.6,565.5l4.3,5.9l-4.3,5.9l-4.3,-5.9ZM1348.6,568.8l4.3,5.9l-4.3,5.9l-4.3,-5.9ZM1348.6,572.1l4.3,5.9l-4.3,5.9l-4.3,-5.9Z" fill="#6d6e71" />
<line x1="1348.6" y1="579.2" x2="1348.6" y2="599.8" stroke="#8a8b8d" stroke-width="1.5" />
<line x1="1337.1" y1="579.2" x2="1360.1" y2="579.2" stroke="#8a8b8d" stroke-width="1.5" />
<line x1="1348.6" y1="614.9" x2="1348.6" y2="614.9" stroke="#8a8b8d" stroke-width="1.5" />
<line x1="1337.1" y1="614.9" x2="1360.1" y2="614.9" stroke="#8a8b8d" stroke-width="1.5" />
<rect x="1326.85" y="600.95" width="43.5" height="12.8" fill="#97989a" stroke="#6d6e71" stroke-width="2.3" />
<path d="M1442.7,35.7l4.3,5.9l-4.3,5.9l-4.3,-5.9ZM1442.7,56.1l4.3,5.9l-4.3,5.9l-4.3,-5.9ZM1442.7,72.9l4.3,5.9l-4.3,5.9l-4.3,-5.9ZM1442.7,80.1l4.3,5.9l-4.3,5.9l-4.3,-5.9ZM1442.7,88.1l4.3,5.9l-4.3,5.9l-4.3,-5.9ZM1442.7,101.9l4.3,5.9l-4.3,5.9l-4.3,-5.9ZM1442.7,121.8l4.3,5.9l-4.3,5.9l-4.3,-5.9ZM1442.7,126.06l4.3,5.9l-4.3,5.9l-4.3,-5.9ZM1442.7,130.32l4.3,5.9l-4.3,5.9l-4.3,-5.9ZM1442.7,134.58l4.3,5.9l-4.3,5.9l-4.3,-5.9ZM1442.7,138.84l4.3,5.9l-4.3,5.9l-4.3,-5.9ZM1442.7,143.1l4.3,5.9l-4.3,5.9l-4.3,-5.9ZM1442.7,158.1l4.3,5.9l-4.3,5.9l-4.3,-5.9ZM1442.7,162.42l4.3,5.9l-4.3,5.9l-4.3,-5.9ZM1442.7,166.74l4.3,5.9l-4.3,5.9l-4.3,-5.9ZM1442.7,171.06l4.3,5.9l-4.3,5.9l-4.3,-5.9ZM1442.7,175.38l4.3,5.9l-4.3,5.9l-4.3,-5.9ZM1442.7,179.7l4.3,5.9l-4.3,5.9l-4.3,-5.9ZM1442.7,204.1l4.3,5.9l-4.3,5.9l-4.3,-5.9ZM1442.7,207.59l4.3,5.9l-4.3,5.9l-4.3,-5.9ZM1442.7,211.09l4.3,5.9l-4.3,5.9l-4.3,-5.9ZM1442.7,214.58l4.3,5.9l-4.3,5.9l-4.3,-5.9ZM1442.7,218.07l4.3,5.9l-4.3,5.9l-4.3,-5.9ZM1442.7,221.56l4.3,5.9l-4.3,5.9l-4.3,-5.9ZM1442.7,225.06l4.3,5.9l-4.3,5.9l-4.3,-5.9ZM1442.7,228.55l4.3,5.9l-4.3,5.9l-4.3,-5.9ZM1442.7,232.04l4.3,5.9l-4.3,5.9l-4.3,-5.9ZM1442.7,235.54l4.3,5.9l-4.3,5.9l-4.3,-5.9ZM1442.7,239.03l4.3,5.9l-4.3,5.9l-4.3,-5.9ZM1442.7,242.52l4.3,5.9l-4.3,5.9l-4.3,-5.9ZM1442.7,246.01l4.3,5.9l-4.3,5.9l-4.3,-5.9ZM1442.7,249.51l4.3,5.9l-4.3,5.9l-4.3,-5.9ZM1442.7,253l4.3,5.9l-4.3,5.9l-4.3,-5.9ZM1442.7,268.1l4.3,5.9l-4.3,5.9l-4.3,-5.9ZM1442.7,271.77l4.3,5.9l-4.3,5.9l-4.3,-5.9ZM1442.7,275.44l4.3,5.9l-4.3,5.9l-4.3,-5.9ZM1442.7,279.11l4.3,5.9l-4.3,5.9l-4.3,-5.9ZM1442.7,282.78l4.3,5.9l-4.3,5.9l-4.3,-5.9ZM1442.7,286.45l4.3,5.9l-4.3,5.9l-4.3,-5.9ZM1442.7,290.12l4.3,5.9l-4.3,5.9l-4.3,-5.9ZM1442.7,293.79l4.3,5.9l-4.3,5.9l-4.3,-5.9ZM1442.7,297.46l4.3,5.9l-4.3,5.9l-4.3,-5.9ZM1442.7,301.13l4.3,5.9l-4.3,5.9l-4.3,-5.9ZM1442.7,304.8l4.3,5.9l-4.3,5.9l-4.3,-5.9ZM1442.7,307.9l4.3,5.9l-4.3,5.9l-4.3,-5.9ZM1442.7,311.3l4.3,5.9l-4.3,5.9l-4.3,-5.9ZM1442.7,314.7l4.3,5.9l-4.3,5.9l-4.3,-5.9ZM1442.7,318.1l4.3,5.9l-4.3,5.9l-4.3,-5.9ZM1442.7,321.5l4.3,5.9l-4.3,5.9l-4.3,-5.9ZM1442.7,324.9l4.3,5.9l-4.3,5.9l-4.3,-5.9ZM1442.7,328.3l4.3,5.9l-4.3,5.9l-4.3,-5.9ZM1442.7,331.7l4.3,5.9l-4.3,5.9l-4.3,-5.9ZM1442.7,335.1l4.3,5.9l-4.3,5.9l-4.3,-5.9ZM1442.7,338.5l4.3,5.9l-4.3,5.9l-4.3,-5.9ZM1442.7,341.9l4.3,5.9l-4.3,5.9l-4.3,-5.9ZM1442.7,345.3l4.3,5.9l-4.3,5.9l-4.3,-5.9ZM1442.7,348.7l4.3,5.9l-4.3,5.9l-4.3,-5.9ZM1442.7,352.1l4.3,5.9l-4.3,5.9l-4.3,-5.9Z" fill="#6d6e71" />
<line x1="1442.7" y1="359.1" x2="1442.7" y2="505.7" stroke="#8a8b8d" stroke-width="1.5" />
<line x1="1431.2" y1="359.1" x2="1454.2" y2="359.1" stroke="#8a8b8d" stroke-width="1.5" />
<line x1="1442.7" y1="605.6" x2="1442.7" y2="614.4" stroke="#8a8b8d" stroke-width="1.5" />
<line x1="1431.2" y1="614.4" x2="1454.2" y2="614.4" stroke="#8a8b8d" stroke-width="1.5" />
<rect x="1420.95" y="506.85" width="43.5" height="97.6" fill="#97989a" stroke="#6d6e71" stroke-width="2.3" />
<line x1="1422.1" y1="559.8" x2="1463.3" y2="559.8" stroke="#6d6e71" stroke-width="2.3" />
<path d="M1536.8,35.7l4.3,5.9l-4.3,5.9l-4.3,-5.9ZM1536.8,47.1l4.3,5.9l-4.3,5.9l-4.3,-5.9ZM1536.8,58.6l4.3,5.9l-4.3,5.9l-4.3,-5.9ZM1536.8,69.9l4.3,5.9l-4.3,5.9l-4.3,-5.9ZM1536.8,86.7l4.3,5.9l-4.3,5.9l-4.3,-5.9ZM1536.8,234.7l4.3,5.9l-4.3,5.9l-4.3,-5.9ZM1536.8,98.9l4.3,5.9l-4.3,5.9l-4.3,-5.9ZM1536.8,105l4.3,5.9l-4.3,5.9l-4.3,-5.9ZM1536.8,111.1l4.3,5.9l-4.3,5.9l-4.3,-5.9ZM1536.8,120.1l4.3,5.9l-4.3,5.9l-4.3,-5.9ZM1536.8,126.1l4.3,5.9l-4.3,5.9l-4.3,-5.9ZM1536.8,132.1l4.3,5.9l-4.3,5.9l-4.3,-5.9ZM1536.8,138.1l4.3,5.9l-4.3,5.9l-4.3,-5.9ZM1536.8,144.1l4.3,5.9l-4.3,5.9l-4.3,-5.9ZM1536.8,150.1l4.3,5.9l-4.3,5.9l-4.3,-5.9ZM1536.8,156.1l4.3,5.9l-4.3,5.9l-4.3,-5.9ZM1536.8,162.1l4.3,5.9l-4.3,5.9l-4.3,-5.9ZM1536.8,168.1l4.3,5.9l-4.3,5.9l-4.3,-5.9ZM1536.8,174.1l4.3,5.9l-4.3,5.9l-4.3,-5.9ZM1536.8,180.1l4.3,5.9l-4.3,5.9l-4.3,-5.9ZM1536.8,186.1l4.3,5.9l-4.3,5.9l-4.3,-5.9ZM1536.8,192.1l4.3,5.9l-4.3,5.9l-4.3,-5.9ZM1536.8,198.1l4.3,5.9l-4.3,5.9l-4.3,-5.9ZM1536.8,204.1l4.3,5.9l-4.3,5.9l-4.3,-5.9ZM1536.8,210.1l4.3,5.9l-4.3,5.9l-4.3,-5.9ZM1536.8,216.1l4.3,5.9l-4.3,5.9l-4.3,-5.9ZM1536.8,222.1l4.3,5.9l-4.3,5.9l-4.3,-5.9ZM1536.8,259.1l4.3,5.9l-4.3,5.9l-4.3,-5.9ZM1536.8,262.15l4.3,5.9l-4.3,5.9l-4.3,-5.9ZM1536.8,265.19l4.3,5.9l-4.3,5.9l-4.3,-5.9ZM1536.8,268.24l4.3,5.9l-4.3,5.9l-4.3,-5.9ZM1536.8,271.29l4.3,5.9l-4.3,5.9l-4.3,-5.9ZM1536.8,274.34l4.3,5.9l-4.3,5.9l-4.3,-5.9ZM1536.8,277.38l4.3,5.9l-4.3,5.9l-4.3,-5.9ZM1536.8,280.43l4.3,5.9l-4.3,5.9l-4.3,-5.9ZM1536.8,283.48l4.3,5.9l-4.3,5.9l-4.3,-5.9ZM1536.8,286.52l4.3,5.9l-4.3,5.9l-4.3,-5.9ZM1536.8,289.57l4.3,5.9l-4.3,5.9l-4.3,-5.9ZM1536.8,292.62l4.3,5.9l-4.3,5.9l-4.3,-5.9ZM1536.8,295.66l4.3,5.9l-4.3,5.9l-4.3,-5.9ZM1536.8,298.71l4.3,5.9l-4.3,5.9l-4.3,-5.9ZM1536.8,301.76l4.3,5.9l-4.3,5.9l-4.3,-5.9ZM1536.8,304.81l4.3,5.9l-4.3,5.9l-4.3,-5.9ZM1536.8,307.85l4.3,5.9l-4.3,5.9l-4.3,-5.9ZM1536.8,310.9l4.3,5.9l-4.3,5.9l-4.3,-5.9ZM1536.8,314.1l4.3,5.9l-4.3,5.9l-4.3,-5.9ZM1536.8,317.44l4.3,5.9l-4.3,5.9l-4.3,-5.9ZM1536.8,320.78l4.3,5.9l-4.3,5.9l-4.3,-5.9ZM1536.8,324.11l4.3,5.9l-4.3,5.9l-4.3,-5.9ZM1536.8,327.45l4.3,5.9l-4.3,5.9l-4.3,-5.9ZM1536.8,330.79l4.3,5.9l-4.3,5.9l-4.3,-5.9ZM1536.8,334.13l4.3,5.9l-4.3,5.9l-4.3,-5.9ZM1536.8,337.46l4.3,5.9l-4.3,5.9l-4.3,-5.9ZM1536.8,340.8l4.3,5.9l-4.3,5.9l-4.3,-5.9ZM1536.8,344.14l4.3,5.9l-4.3,5.9l-4.3,-5.9ZM1536.8,347.48l4.3,5.9l-4.3,5.9l-4.3,-5.9ZM1536.8,350.82l4.3,5.9l-4.3,5.9l-4.3,-5.9ZM1536.8,354.15l4.3,5.9l-4.3,5.9l-4.3,-5.9ZM1536.8,357.49l4.3,5.9l-4.3,5.9l-4.3,-5.9ZM1536.8,360.83l4.3,5.9l-4.3,5.9l-4.3,-5.9ZM1536.8,364.17l4.3,5.9l-4.3,5.9l-4.3,-5.9ZM1536.8,367.51l4.3,5.9l-4.3,5.9l-4.3,-5.9ZM1536.8,370.84l4.3,5.9l-4.3,5.9l-4.3,-5.9ZM1536.8,374.18l4.3,5.9l-4.3,5.9l-4.3,-5.9ZM1536.8,377.52l4.3,5.9l-4.3,5.9l-4.3,-5.9ZM1536.8,380.86l4.3,5.9l-4.3,5.9l-4.3,-5.9ZM1536.8,384.19l4.3,5.9l-4.3,5.9l-4.3,-5.9ZM1536.8,387.53l4.3,5.9l-4.3,5.9l-4.3,-5.9ZM1536.8,390.87l4.3,5.9l-4.3,5.9l-4.3,-5.9ZM1536.8,394.21l4.3,5.9l-4.3,5.9l-4.3,-5.9ZM1536.8,397.55l4.3,5.9l-4.3,5.9l-4.3,-5.9ZM1536.8,400.88l4.3,5.9l-4.3,5.9l-4.3,-5.9ZM1536.8,404.22l4.3,5.9l-4.3,5.9l-4.3,-5.9ZM1536.8,407.56l4.3,5.9l-4.3,5.9l-4.3,-5.9ZM1536.8,410.9l4.3,5.9l-4.3,5.9l-4.3,-5.9ZM1536.8,414.24l4.3,5.9l-4.3,5.9l-4.3,-5.9ZM1536.8,417.57l4.3,5.9l-4.3,5.9l-4.3,-5.9ZM1536.8,420.91l4.3,5.9l-4.3,5.9l-4.3,-5.9ZM1536.8,424.25l4.3,5.9l-4.3,5.9l-4.3,-5.9ZM1536.8,427.59l4.3,5.9l-4.3,5.9l-4.3,-5.9ZM1536.8,430.92l4.3,5.9l-4.3,5.9l-4.3,-5.9ZM1536.8,434.26l4.3,5.9l-4.3,5.9l-4.3,-5.9ZM1536.8,437.6l4.3,5.9l-4.3,5.9l-4.3,-5.9Z" fill="#6d6e71" />
<line x1="1536.8" y1="444.2" x2="1536.8" y2="514" stroke="#8a8b8d" stroke-width="1.5" />
<line x1="1525.3" y1="444.2" x2="1548.3" y2="444.2" stroke="#8a8b8d" stroke-width="1.5" />
<line x1="1536.8" y1="561.6" x2="1536.8" y2="614.4" stroke="#8a8b8d" stroke-width="1.5" />
<line x1="1525.3" y1="614.4" x2="1548.3" y2="614.4" stroke="#8a8b8d" stroke-width="1.5" />
<rect x="1515.05" y="515.15" width="43.5" height="45.3" fill="#97989a" stroke="#6d6e71" stroke-width="2.3" />
<line x1="1516.2" y1="539.7" x2="1557.4" y2="539.7" stroke="#6d6e71" stroke-width="2.3" />
<path d="M1630.9,35.7l4.3,5.9l-4.3,5.9l-4.3,-5.9ZM1630.9,76l4.3,5.9l-4.3,5.9l-4.3,-5.9ZM1630.9,97.3l4.3,5.9l-4.3,5.9l-4.3,-5.9ZM1630.9,110.5l4.3,5.9l-4.3,5.9l-4.3,-5.9ZM1630.9,269.7l4.3,5.9l-4.3,5.9l-4.3,-5.9ZM1630.9,140.1l4.3,5.9l-4.3,5.9l-4.3,-5.9ZM1630.9,145.58l4.3,5.9l-4.3,5.9l-4.3,-5.9ZM1630.9,151.06l4.3,5.9l-4.3,5.9l-4.3,-5.9ZM1630.9,156.54l4.3,5.9l-4.3,5.9l-4.3,-5.9ZM1630.9,162.02l4.3,5.9l-4.3,5.9l-4.3,-5.9ZM1630.9,167.5l4.3,5.9l-4.3,5.9l-4.3,-5.9ZM1630.9,182.8l4.3,5.9l-4.3,5.9l-4.3,-5.9ZM1630.9,188.9l4.3,5.9l-4.3,5.9l-4.3,-5.9ZM1630.9,195l4.3,5.9l-4.3,5.9l-4.3,-5.9ZM1630.9,210.1l4.3,5.9l-4.3,5.9l-4.3,-5.9ZM1630.9,214.75l4.3,5.9l-4.3,5.9l-4.3,-5.9ZM1630.9,219.4l4.3,5.9l-4.3,5.9l-4.3,-5.9ZM1630.9,240.8l4.3,5.9l-4.3,5.9l-4.3,-5.9ZM1630.9,245.9l4.3,5.9l-4.3,5.9l-4.3,-5.9ZM1630.9,251l4.3,5.9l-4.3,5.9l-4.3,-5.9ZM1630.9,256.1l4.3,5.9l-4.3,5.9l-4.3,-5.9ZM1630.9,283.5l4.3,5.9l-4.3,5.9l-4.3,-5.9ZM1630.9,286.81l4.3,5.9l-4.3,5.9l-4.3,-5.9ZM1630.9,290.13l4.3,5.9l-4.3,5.9l-4.3,-5.9ZM1630.9,293.44l4.3,5.9l-4.3,5.9l-4.3,-5.9ZM1630.9,296.75l4.3,5.9l-4.3,5.9l-4.3,-5.9ZM1630.9,300.07l4.3,5.9l-4.3,5.9l-4.3,-5.9ZM1630.9,303.38l4.3,5.9l-4.3,5.9l-4.3,-5.9ZM1630.9,306.69l4.3,5.9l-4.3,5.9l-4.3,-5.9ZM1630.9,310.01l4.3,5.9l-4.3,5.9l-4.3,-5.9ZM1630.9,313.32l4.3,5.9l-4.3,5.9l-4.3,-5.9ZM1630.9,316.63l4.3,5.9l-4.3,5.9l-4.3,-5.9ZM1630.9,319.95l4.3,5.9l-4.3,5.9l-4.3,-5.9ZM1630.9,323.26l4.3,5.9l-4.3,5.9l-4.3,-5.9ZM1630.9,326.57l4.3,5.9l-4.3,5.9l-4.3,-5.9ZM1630.9,329.88l4.3,5.9l-4.3,5.9l-4.3,-5.9ZM1630.9,333.2l4.3,5.9l-4.3,5.9l-4.3,-5.9ZM1630.9,336.51l4.3,5.9l-4.3,5.9l-4.3,-5.9ZM1630.9,339.82l4.3,5.9l-4.3,5.9l-4.3,-5.9ZM1630.9,343.14l4.3,5.9l-4.3,5.9l-4.3,-5.9ZM1630.9,346.45l4.3,5.9l-4.3,5.9l-4.3,-5.9ZM1630.9,349.76l4.3,5.9l-4.3,5.9l-4.3,-5.9ZM1630.9,353.08l4.3,5.9l-4.3,5.9l-4.3,-5.9ZM1630.9,356.39l4.3,5.9l-4.3,5.9l-4.3,-5.9ZM1630.9,359.7l4.3,5.9l-4.3,5.9l-4.3,-5.9ZM1630.9,363.02l4.3,5.9l-4.3,5.9l-4.3,-5.9ZM1630.9,366.33l4.3,5.9l-4.3,5.9l-4.3,-5.9ZM1630.9,369.64l4.3,5.9l-4.3,5.9l-4.3,-5.9ZM1630.9,372.96l4.3,5.9l-4.3,5.9l-4.3,-5.9ZM1630.9,376.27l4.3,5.9l-4.3,5.9l-4.3,-5.9ZM1630.9,379.58l4.3,5.9l-4.3,5.9l-4.3,-5.9ZM1630.9,382.9l4.3,5.9l-4.3,5.9l-4.3,-5.9ZM1630.9,386.21l4.3,5.9l-4.3,5.9l-4.3,-5.9ZM1630.9,389.52l4.3,5.9l-4.3,5.9l-4.3,-5.9ZM1630.9,392.84l4.3,5.9l-4.3,5.9l-4.3,-5.9ZM1630.9,396.15l4.3,5.9l-4.3,5.9l-4.3,-5.9ZM1630.9,399.46l4.3,5.9l-4.3,5.9l-4.3,-5.9ZM1630.9,402.78l4.3,5.9l-4.3,5.9l-4.3,-5.9ZM1630.9,406.09l4.3,5.9l-4.3,5.9l-4.3,-5.9ZM1630.9,409.4l4.3,5.9l-4.3,5.9l-4.3,-5.9ZM1630.9,412.72l4.3,5.9l-4.3,5.9l-4.3,-5.9ZM1630.9,416.03l4.3,5.9l-4.3,5.9l-4.3,-5.9ZM1630.9,419.34l4.3,5.9l-4.3,5.9l-4.3,-5.9ZM1630.9,422.65l4.3,5.9l-4.3,5.9l-4.3,-5.9ZM1630.9,425.97l4.3,5.9l-4.3,5.9l-4.3,-5.9ZM1630.9,429.28l4.3,5.9l-4.3,5.9l-4.3,-5.9ZM1630.9,432.59l4.3,5.9l-4.3,5.9l-4.3,-5.9ZM1630.9,435.91l4.3,5.9l-4.3,5.9l-4.3,-5.9ZM1630.9,439.22l4.3,5.9l-4.3,5.9l-4.3,-5.9ZM1630.9,442.53l4.3,5.9l-4.3,5.9l-4.3,-5.9ZM1630.9,445.85l4.3,5.9l-4.3,5.9l-4.3,-5.9ZM1630.9,449.16l4.3,5.9l-4.3,5.9l-4.3,-5.9ZM1630.9,452.47l4.3,5.9l-4.3,5.9l-4.3,-5.9ZM1630.9,455.79l4.3,5.9l-4.3,5.9l-4.3,-5.9ZM1630.9,459.1l4.3,5.9l-4.3,5.9l-4.3,-5.9Z" fill="#6d6e71" />
<line x1="1630.9" y1="465.9" x2="1630.9" y2="522.6" stroke="#8a8b8d" stroke-width="1.5" />
<line x1="1619.4" y1="465.9" x2="1642.4" y2="465.9" stroke="#8a8b8d" stroke-width="1.5" />
<line x1="1630.9" y1="561.6" x2="1630.9" y2="598" stroke="#8a8b8d" stroke-width="1.5" />
<line x1="1619.4" y1="598" x2="1642.4" y2="598" stroke="#8a8b8d" stroke-width="1.5" />
<rect x="1609.15" y="523.75" width="43.5" height="36.7" fill="#97989a" stroke="#6d6e71" stroke-width="2.3" />
<line x1="1610.3" y1="546.5" x2="1651.5" y2="546.5" stroke="#6d6e71" stroke-width="2.3" />
<path d="M1725,35.7l4.3,5.9l-4.3,5.9l-4.3,-5.9ZM1725,83.6l4.3,5.9l-4.3,5.9l-4.3,-5.9ZM1725,164.5l4.3,5.9l-4.3,5.9l-4.3,-5.9ZM1725,181.3l4.3,5.9l-4.3,5.9l-4.3,-5.9ZM1725,198.1l4.3,5.9l-4.3,5.9l-4.3,-5.9ZM1725,98.9l4.3,5.9l-4.3,5.9l-4.3,-5.9ZM1725,103.97l4.3,5.9l-4.3,5.9l-4.3,-5.9ZM1725,109.03l4.3,5.9l-4.3,5.9l-4.3,-5.9ZM1725,114.1l4.3,5.9l-4.3,5.9l-4.3,-5.9ZM1725,129.4l4.3,5.9l-4.3,5.9l-4.3,-5.9ZM1725,134.97l4.3,5.9l-4.3,5.9l-4.3,-5.9ZM1725,140.53l4.3,5.9l-4.3,5.9l-4.3,-5.9ZM1725,146.1l4.3,5.9l-4.3,5.9l-4.3,-5.9ZM1725,207.1l4.3,5.9l-4.3,5.9l-4.3,-5.9ZM1725,211.27l4.3,5.9l-4.3,5.9l-4.3,-5.9ZM1725,215.45l4.3,5.9l-4.3,5.9l-4.3,-5.9ZM1725,219.62l4.3,5.9l-4.3,5.9l-4.3,-5.9ZM1725,223.79l4.3,5.9l-4.3,5.9l-4.3,-5.9ZM1725,227.96l4.3,5.9l-4.3,5.9l-4.3,-5.9ZM1725,232.14l4.3,5.9l-4.3,5.9l-4.3,-5.9ZM1725,236.31l4.3,5.9l-4.3,5.9l-4.3,-5.9ZM1725,240.48l4.3,5.9l-4.3,5.9l-4.3,-5.9ZM1725,244.65l4.3,5.9l-4.3,5.9l-4.3,-5.9ZM1725,248.83l4.3,5.9l-4.3,5.9l-4.3,-5.9ZM1725,253l4.3,5.9l-4.3,5.9l-4.3,-5.9ZM1725,259.1l4.3,5.9l-4.3,5.9l-4.3,-5.9ZM1725,264.1l4.3,5.9l-4.3,5.9l-4.3,-5.9ZM1725,269.1l4.3,5.9l-4.3,5.9l-4.3,-5.9ZM1725,274.1l4.3,5.9l-4.3,5.9l-4.3,-5.9ZM1725,286.5l4.3,5.9l-4.3,5.9l-4.3,-5.9ZM1725,289.77l4.3,5.9l-4.3,5.9l-4.3,-5.9ZM1725,293.03l4.3,5.9l-4.3,5.9l-4.3,-5.9ZM1725,296.3l4.3,5.9l-4.3,5.9l-4.3,-5.9ZM1725,299.57l4.3,5.9l-4.3,5.9l-4.3,-5.9ZM1725,302.84l4.3,5.9l-4.3,5.9l-4.3,-5.9ZM1725,306.1l4.3,5.9l-4.3,5.9l-4.3,-5.9ZM1725,309.37l4.3,5.9l-4.3,5.9l-4.3,-5.9ZM1725,312.64l4.3,5.9l-4.3,5.9l-4.3,-5.9ZM1725,315.91l4.3,5.9l-4.3,5.9l-4.3,-5.9ZM1725,319.17l4.3,5.9l-4.3,5.9l-4.3,-5.9ZM1725,322.44l4.3,5.9l-4.3,5.9l-4.3,-5.9ZM1725,325.71l4.3,5.9l-4.3,5.9l-4.3,-5.9ZM1725,328.98l4.3,5.9l-4.3,5.9l-4.3,-5.9ZM1725,332.24l4.3,5.9l-4.3,5.9l-4.3,-5.9ZM1725,335.51l4.3,5.9l-4.3,5.9l-4.3,-5.9ZM1725,338.78l4.3,5.9l-4.3,5.9l-4.3,-5.9ZM1725,342.04l4.3,5.9l-4.3,5.9l-4.3,-5.9ZM1725,345.31l4.3,5.9l-4.3,5.9l-4.3,-5.9ZM1725,348.58l4.3,5.9l-4.3,5.9l-4.3,-5.9ZM1725,351.85l4.3,5.9l-4.3,5.9l-4.3,-5.9ZM1725,355.11l4.3,5.9l-4.3,5.9l-4.3,-5.9ZM1725,358.38l4.3,5.9l-4.3,5.9l-4.3,-5.9ZM1725,361.65l4.3,5.9l-4.3,5.9l-4.3,-5.9ZM1725,364.92l4.3,5.9l-4.3,5.9l-4.3,-5.9ZM1725,368.18l4.3,5.9l-4.3,5.9l-4.3,-5.9ZM1725,371.45l4.3,5.9l-4.3,5.9l-4.3,-5.9ZM1725,374.72l4.3,5.9l-4.3,5.9l-4.3,-5.9ZM1725,377.99l4.3,5.9l-4.3,5.9l-4.3,-5.9ZM1725,381.25l4.3,5.9l-4.3,5.9l-4.3,-5.9ZM1725,384.52l4.3,5.9l-4.3,5.9l-4.3,-5.9ZM1725,387.79l4.3,5.9l-4.3,5.9l-4.3,-5.9ZM1725,391.06l4.3,5.9l-4.3,5.9l-4.3,-5.9ZM1725,394.32l4.3,5.9l-4.3,5.9l-4.3,-5.9ZM1725,397.59l4.3,5.9l-4.3,5.9l-4.3,-5.9ZM1725,400.86l4.3,5.9l-4.3,5.9l-4.3,-5.9ZM1725,404.12l4.3,5.9l-4.3,5.9l-4.3,-5.9ZM1725,407.39l4.3,5.9l-4.3,5.9l-4.3,-5.9ZM1725,410.66l4.3,5.9l-4.3,5.9l-4.3,-5.9ZM1725,413.93l4.3,5.9l-4.3,5.9l-4.3,-5.9ZM1725,417.19l4.3,5.9l-4.3,5.9l-4.3,-5.9ZM1725,420.46l4.3,5.9l-4.3,5.9l-4.3,-5.9ZM1725,423.73l4.3,5.9l-4.3,5.9l-4.3,-5.9ZM1725,427l4.3,5.9l-4.3,5.9l-4.3,-5.9ZM1725,430.26l4.3,5.9l-4.3,5.9l-4.3,-5.9ZM1725,433.53l4.3,5.9l-4.3,5.9l-4.3,-5.9ZM1725,436.8l4.3,5.9l-4.3,5.9l-4.3,-5.9ZM1725,440.07l4.3,5.9l-4.3,5.9l-4.3,-5.9ZM1725,443.33l4.3,5.9l-4.3,5.9l-4.3,-5.9ZM1725,446.6l4.3,5.9l-4.3,5.9l-4.3,-5.9Z" fill="#6d6e71" />
<line x1="1725" y1="453.3" x2="1725" y2="517.1" stroke="#8a8b8d" stroke-width="1.5" />
<line x1="1713.5" y1="453.3" x2="1736.5" y2="453.3" stroke="#8a8b8d" stroke-width="1.5" />
<line x1="1725" y1="560.4" x2="1725" y2="601.6" stroke="#8a8b8d" stroke-width="1.5" />
<line x1="1713.5" y1="601.6" x2="1736.5" y2="601.6" stroke="#8a8b8d" stroke-width="1.5" />
<rect x="1703.25" y="518.25" width="43.5" height="41" fill="#97989a" stroke="#6d6e71" stroke-width="2.3" />
<line x1="1704.4" y1="546.4" x2="1745.6" y2="546.4" stroke="#6d6e71" stroke-width="2.3" />
<path d="M1819.1,120.1l4.3,5.9l-4.3,5.9l-4.3,-5.9ZM1819.1,33.1l4.3,5.9l-4.3,5.9l-4.3,-5.9ZM1819.1,37.14l4.3,5.9l-4.3,5.9l-4.3,-5.9ZM1819.1,41.19l4.3,5.9l-4.3,5.9l-4.3,-5.9ZM1819.1,45.23l4.3,5.9l-4.3,5.9l-4.3,-5.9ZM1819.1,49.27l4.3,5.9l-4.3,5.9l-4.3,-5.9ZM1819.1,53.31l4.3,5.9l-4.3,5.9l-4.3,-5.9ZM1819.1,57.36l4.3,5.9l-4.3,5.9l-4.3,-5.9ZM1819.1,61.4l4.3,5.9l-4.3,5.9l-4.3,-5.9ZM1819.1,65.44l4.3,5.9l-4.3,5.9l-4.3,-5.9ZM1819.1,69.49l4.3,5.9l-4.3,5.9l-4.3,-5.9ZM1819.1,73.53l4.3,5.9l-4.3,5.9l-4.3,-5.9ZM1819.1,77.57l4.3,5.9l-4.3,5.9l-4.3,-5.9ZM1819.1,81.61l4.3,5.9l-4.3,5.9l-4.3,-5.9ZM1819.1,85.66l4.3,5.9l-4.3,5.9l-4.3,-5.9ZM1819.1,89.7l4.3,5.9l-4.3,5.9l-4.3,-5.9ZM1819.1,149.1l4.3,5.9l-4.3,5.9l-4.3,-5.9ZM1819.1,152.69l4.3,5.9l-4.3,5.9l-4.3,-5.9ZM1819.1,156.28l4.3,5.9l-4.3,5.9l-4.3,-5.9ZM1819.1,159.86l4.3,5.9l-4.3,5.9l-4.3,-5.9ZM1819.1,163.45l4.3,5.9l-4.3,5.9l-4.3,-5.9ZM1819.1,167.04l4.3,5.9l-4.3,5.9l-4.3,-5.9ZM1819.1,170.63l4.3,5.9l-4.3,5.9l-4.3,-5.9ZM1819.1,174.22l4.3,5.9l-4.3,5.9l-4.3,-5.9ZM1819.1,177.81l4.3,5.9l-4.3,5.9l-4.3,-5.9ZM1819.1,181.39l4.3,5.9l-4.3,5.9l-4.3,-5.9ZM1819.1,184.98l4.3,5.9l-4.3,5.9l-4.3,-5.9ZM1819.1,188.57l4.3,5.9l-4.3,5.9l-4.3,-5.9ZM1819.1,192.16l4.3,5.9l-4.3,5.9l-4.3,-5.9ZM1819.1,195.75l4.3,5.9l-4.3,5.9l-4.3,-5.9ZM1819.1,199.34l4.3,5.9l-4.3,5.9l-4.3,-5.9ZM1819.1,202.92l4.3,5.9l-4.3,5.9l-4.3,-5.9ZM1819.1,206.51l4.3,5.9l-4.3,5.9l-4.3,-5.9ZM1819.1,210.1l4.3,5.9l-4.3,5.9l-4.3,-5.9ZM1819.1,225.5l4.3,5.9l-4.3,5.9l-4.3,-5.9ZM1819.1,228.81l4.3,5.9l-4.3,5.9l-4.3,-5.9ZM1819.1,232.12l4.3,5.9l-4.3,5.9l-4.3,-5.9ZM1819.1,235.43l4.3,5.9l-4.3,5.9l-4.3,-5.9ZM1819.1,238.74l4.3,5.9l-4.3,5.9l-4.3,-5.9ZM1819.1,242.05l4.3,5.9l-4.3,5.9l-4.3,-5.9ZM1819.1,245.36l4.3,5.9l-4.3,5.9l-4.3,-5.9ZM1819.1,248.67l4.3,5.9l-4.3,5.9l-4.3,-5.9ZM1819.1,251.98l4.3,5.9l-4.3,5.9l-4.3,-5.9ZM1819.1,255.29l4.3,5.9l-4.3,5.9l-4.3,-5.9ZM1819.1,258.6l4.3,5.9l-4.3,5.9l-4.3,-5.9ZM1819.1,261.91l4.3,5.9l-4.3,5.9l-4.3,-5.9ZM1819.1,265.22l4.3,5.9l-4.3,5.9l-4.3,-5.9ZM1819.1,268.53l4.3,5.9l-4.3,5.9l-4.3,-5.9ZM1819.1,271.84l4.3,5.9l-4.3,5.9l-4.3,-5.9ZM1819.1,275.15l4.3,5.9l-4.3,5.9l-4.3,-5.9ZM1819.1,278.46l4.3,5.9l-4.3,5.9l-4.3,-5.9ZM1819.1,281.77l4.3,5.9l-4.3,5.9l-4.3,-5.9ZM1819.1,285.08l4.3,5.9l-4.3,5.9l-4.3,-5.9ZM1819.1,288.39l4.3,5.9l-4.3,5.9l-4.3,-5.9ZM1819.1,291.7l4.3,5.9l-4.3,5.9l-4.3,-5.9ZM1819.1,295.01l4.3,5.9l-4.3,5.9l-4.3,-5.9ZM1819.1,298.32l4.3,5.9l-4.3,5.9l-4.3,-5.9ZM1819.1,301.63l4.3,5.9l-4.3,5.9l-4.3,-5.9ZM1819.1,304.94l4.3,5.9l-4.3,5.9l-4.3,-5.9ZM1819.1,308.25l4.3,5.9l-4.3,5.9l-4.3,-5.9ZM1819.1,311.56l4.3,5.9l-4.3,5.9l-4.3,-5.9ZM1819.1,314.87l4.3,5.9l-4.3,5.9l-4.3,-5.9ZM1819.1,318.18l4.3,5.9l-4.3,5.9l-4.3,-5.9ZM1819.1,321.49l4.3,5.9l-4.3,5.9l-4.3,-5.9ZM1819.1,324.8l4.3,5.9l-4.3,5.9l-4.3,-5.9ZM1819.1,328.11l4.3,5.9l-4.3,5.9l-4.3,-5.9ZM1819.1,331.42l4.3,5.9l-4.3,5.9l-4.3,-5.9ZM1819.1,334.73l4.3,5.9l-4.3,5.9l-4.3,-5.9ZM1819.1,338.04l4.3,5.9l-4.3,5.9l-4.3,-5.9ZM1819.1,341.35l4.3,5.9l-4.3,5.9l-4.3,-5.9ZM1819.1,344.66l4.3,5.9l-4.3,5.9l-4.3,-5.9ZM1819.1,347.97l4.3,5.9l-4.3,5.9l-4.3,-5.9ZM1819.1,351.28l4.3,5.9l-4.3,5.9l-4.3,-5.9ZM1819.1,354.59l4.3,5.9l-4.3,5.9l-4.3,-5.9ZM1819.1,357.9l4.3,5.9l-4.3,5.9l-4.3,-5.9ZM1819.1,361.21l4.3,5.9l-4.3,5.9l-4.3,-5.9ZM1819.1,364.52l4.3,5.9l-4.3,5.9l-4.3,-5.9ZM1819.1,367.83l4.3,5.9l-4.3,5.9l-4.3,-5.9ZM1819.1,371.14l4.3,5.9l-4.3,5.9l-4.3,-5.9ZM1819.1,374.45l4.3,5.9l-4.3,5.9l-4.3,-5.9ZM1819.1,377.76l4.3,5.9l-4.3,5.9l-4.3,-5.9ZM1819.1,381.07l4.3,5.9l-4.3,5.9l-4.3,-5.9ZM1819.1,384.38l4.3,5.9l-4.3,5.9l-4.3,-5.9ZM1819.1,387.69l4.3,5.9l-4.3,5.9l-4.3,-5.9ZM1819.1,391l4.3,5.9l-4.3,5.9l-4.3,-5.9ZM1819.1,394.31l4.3,5.9l-4.3,5.9l-4.3,-5.9ZM1819.1,397.62l4.3,5.9l-4.3,5.9l-4.3,-5.9ZM1819.1,400.93l4.3,5.9l-4.3,5.9l-4.3,-5.9ZM1819.1,404.24l4.3,5.9l-4.3,5.9l-4.3,-5.9ZM1819.1,407.55l4.3,5.9l-4.3,5.9l-4.3,-5.9ZM1819.1,410.86l4.3,5.9l-4.3,5.9l-4.3,-5.9ZM1819.1,414.17l4.3,5.9l-4.3,5.9l-4.3,-5.9ZM1819.1,417.48l4.3,5.9l-4.3,5.9l-4.3,-5.9ZM1819.1,420.79l4.3,5.9l-4.3,5.9l-4.3,-5.9ZM1819.1,424.1l4.3,5.9l-4.3,5.9l-4.3,-5.9Z" fill="#6d6e71" />
<line x1="1819.1" y1="430.6" x2="1819.1" y2="504.9" stroke="#8a8b8d" stroke-width="1.5" />
<line x1="1807.6" y1="430.6" x2="1830.6" y2="430.6" stroke="#8a8b8d" stroke-width="1.5" />
<line x1="1819.1" y1="555" x2="1819.1" y2="597.3" stroke="#8a8b8d" stroke-width="1.5" />
<line x1="1807.6" y1="597.3" x2="1830.6" y2="597.3" stroke="#8a8b8d" stroke-width="1.5" />
<rect x="1797.35" y="506.05" width="43.5" height="47.8" fill="#f9b39a" stroke="#6d6e71" stroke-width="2.3" />
<line x1="1798.5" y1="538.7" x2="1839.7" y2="538.7" stroke="#6d6e71" stroke-width="2.3" />
<path d="M1913.2,35l4.3,5.9l-4.3,5.9l-4.3,-5.9ZM1913.2,239l4.3,5.9l-4.3,5.9l-4.3,-5.9ZM1913.2,43.9l4.3,5.9l-4.3,5.9l-4.3,-5.9ZM1913.2,49.85l4.3,5.9l-4.3,5.9l-4.3,-5.9ZM1913.2,55.8l4.3,5.9l-4.3,5.9l-4.3,-5.9ZM1913.2,62.7l4.3,5.9l-4.3,5.9l-4.3,-5.9ZM1913.2,67.65l4.3,5.9l-4.3,5.9l-4.3,-5.9ZM1913.2,72.6l4.3,5.9l-4.3,5.9l-4.3,-5.9ZM1913.2,77.55l4.3,5.9l-4.3,5.9l-4.3,-5.9ZM1913.2,82.5l4.3,5.9l-4.3,5.9l-4.3,-5.9ZM1913.2,89.5l4.3,5.9l-4.3,5.9l-4.3,-5.9ZM1913.2,94.77l4.3,5.9l-4.3,5.9l-4.3,-5.9ZM1913.2,100.03l4.3,5.9l-4.3,5.9l-4.3,-5.9ZM1913.2,105.3l4.3,5.9l-4.3,5.9l-4.3,-5.9ZM1913.2,108.3l4.3,5.9l-4.3,5.9l-4.3,-5.9ZM1913.2,112.19l4.3,5.9l-4.3,5.9l-4.3,-5.9ZM1913.2,116.07l4.3,5.9l-4.3,5.9l-4.3,-5.9ZM1913.2,119.96l4.3,5.9l-4.3,5.9l-4.3,-5.9ZM1913.2,123.84l4.3,5.9l-4.3,5.9l-4.3,-5.9ZM1913.2,127.73l4.3,5.9l-4.3,5.9l-4.3,-5.9ZM1913.2,131.61l4.3,5.9l-4.3,5.9l-4.3,-5.9ZM1913.2,135.5l4.3,5.9l-4.3,5.9l-4.3,-5.9ZM1913.2,139.39l4.3,5.9l-4.3,5.9l-4.3,-5.9ZM1913.2,143.27l4.3,5.9l-4.3,5.9l-4.3,-5.9ZM1913.2,147.16l4.3,5.9l-4.3,5.9l-4.3,-5.9ZM1913.2,151.04l4.3,5.9l-4.3,5.9l-4.3,-5.9ZM1913.2,154.93l4.3,5.9l-4.3,5.9l-4.3,-5.9ZM1913.2,158.81l4.3,5.9l-4.3,5.9l-4.3,-5.9ZM1913.2,162.7l4.3,5.9l-4.3,5.9l-4.3,-5.9ZM1913.2,164.7l4.3,5.9l-4.3,5.9l-4.3,-5.9ZM1913.2,168.66l4.3,5.9l-4.3,5.9l-4.3,-5.9ZM1913.2,172.63l4.3,5.9l-4.3,5.9l-4.3,-5.9ZM1913.2,176.59l4.3,5.9l-4.3,5.9l-4.3,-5.9ZM1913.2,180.56l4.3,5.9l-4.3,5.9l-4.3,-5.9ZM1913.2,184.52l4.3,5.9l-4.3,5.9l-4.3,-5.9ZM1913.2,188.49l4.3,5.9l-4.3,5.9l-4.3,-5.9ZM1913.2,192.45l4.3,5.9l-4.3,5.9l-4.3,-5.9ZM1913.2,196.42l4.3,5.9l-4.3,5.9l-4.3,-5.9ZM1913.2,200.38l4.3,5.9l-4.3,5.9l-4.3,-5.9ZM1913.2,204.35l4.3,5.9l-4.3,5.9l-4.3,-5.9ZM1913.2,208.31l4.3,5.9l-4.3,5.9l-4.3,-5.9ZM1913.2,212.28l4.3,5.9l-4.3,5.9l-4.3,-5.9ZM1913.2,216.24l4.3,5.9l-4.3,5.9l-4.3,-5.9ZM1913.2,220.21l4.3,5.9l-4.3,5.9l-4.3,-5.9ZM1913.2,224.17l4.3,5.9l-4.3,5.9l-4.3,-5.9ZM1913.2,228.14l4.3,5.9l-4.3,5.9l-4.3,-5.9ZM1913.2,232.1l4.3,5.9l-4.3,5.9l-4.3,-5.9ZM1913.2,245.9l4.3,5.9l-4.3,5.9l-4.3,-5.9ZM1913.2,249.22l4.3,5.9l-4.3,5.9l-4.3,-5.9ZM1913.2,252.53l4.3,5.9l-4.3,5.9l-4.3,-5.9ZM1913.2,255.85l4.3,5.9l-4.3,5.9l-4.3,-5.9ZM1913.2,259.17l4.3,5.9l-4.3,5.9l-4.3,-5.9ZM1913.2,262.49l4.3,5.9l-4.3,5.9l-4.3,-5.9ZM1913.2,265.81l4.3,5.9l-4.3,5.9l-4.3,-5.9ZM1913.2,269.12l4.3,5.9l-4.3,5.9l-4.3,-5.9ZM1913.2,272.44l4.3,5.9l-4.3,5.9l-4.3,-5.9ZM1913.2,275.76l4.3,5.9l-4.3,5.9l-4.3,-5.9ZM1913.2,279.08l4.3,5.9l-4.3,5.9l-4.3,-5.9ZM1913.2,282.39l4.3,5.9l-4.3,5.9l-4.3,-5.9ZM1913.2,285.71l4.3,5.9l-4.3,5.9l-4.3,-5.9ZM1913.2,289.03l4.3,5.9l-4.3,5.9l-4.3,-5.9ZM1913.2,292.35l4.3,5.9l-4.3,5.9l-4.3,-5.9ZM1913.2,295.66l4.3,5.9l-4.3,5.9l-4.3,-5.9ZM1913.2,298.98l4.3,5.9l-4.3,5.9l-4.3,-5.9ZM1913.2,302.3l4.3,5.9l-4.3,5.9l-4.3,-5.9ZM1913.2,305.62l4.3,5.9l-4.3,5.9l-4.3,-5.9ZM1913.2,308.93l4.3,5.9l-4.3,5.9l-4.3,-5.9ZM1913.2,312.25l4.3,5.9l-4.3,5.9l-4.3,-5.9ZM1913.2,315.57l4.3,5.9l-4.3,5.9l-4.3,-5.9ZM1913.2,318.88l4.3,5.9l-4.3,5.9l-4.3,-5.9ZM1913.2,322.2l4.3,5.9l-4.3,5.9l-4.3,-5.9ZM1913.2,325.52l4.3,5.9l-4.3,5.9l-4.3,-5.9ZM1913.2,328.84l4.3,5.9l-4.3,5.9l-4.3,-5.9ZM1913.2,332.16l4.3,5.9l-4.3,5.9l-4.3,-5.9ZM1913.2,335.47l4.3,5.9l-4.3,5.9l-4.3,-5.9ZM1913.2,338.79l4.3,5.9l-4.3,5.9l-4.3,-5.9ZM1913.2,342.11l4.3,5.9l-4.3,5.9l-4.3,-5.9ZM1913.2,345.43l4.3,5.9l-4.3,5.9l-4.3,-5.9ZM1913.2,348.74l4.3,5.9l-4.3,5.9l-4.3,-5.9ZM1913.2,352.06l4.3,5.9l-4.3,5.9l-4.3,-5.9ZM1913.2,355.38l4.3,5.9l-4.3,5.9l-4.3,-5.9ZM1913.2,358.7l4.3,5.9l-4.3,5.9l-4.3,-5.9ZM1913.2,362.01l4.3,5.9l-4.3,5.9l-4.3,-5.9ZM1913.2,365.33l4.3,5.9l-4.3,5.9l-4.3,-5.9ZM1913.2,368.65l4.3,5.9l-4.3,5.9l-4.3,-5.9ZM1913.2,371.97l4.3,5.9l-4.3,5.9l-4.3,-5.9ZM1913.2,375.28l4.3,5.9l-4.3,5.9l-4.3,-5.9ZM1913.2,378.6l4.3,5.9l-4.3,5.9l-4.3,-5.9Z" fill="#6d6e71" />
<line x1="1913.2" y1="385.2" x2="1913.2" y2="478.9" stroke="#8a8b8d" stroke-width="1.5" />
<line x1="1901.7" y1="385.2" x2="1924.7" y2="385.2" stroke="#8a8b8d" stroke-width="1.5" />
<line x1="1913.2" y1="544.8" x2="1913.2" y2="592.7" stroke="#8a8b8d" stroke-width="1.5" />
<line x1="1901.7" y1="592.7" x2="1924.7" y2="592.7" stroke="#8a8b8d" stroke-width="1.5" />
<rect x="1892.4" y="481" width="41.6" height="61.7" fill="#f69177" stroke="#231f20" stroke-width="4.2" />
<line x1="1894.5" y1="522.2" x2="1931.9" y2="522.2" stroke="#231f20" stroke-width="4.2" />
<path d="M2007.3,32.6l4.3,5.9l-4.3,5.9l-4.3,-5.9ZM2007.3,36.76l4.3,5.9l-4.3,5.9l-4.3,-5.9ZM2007.3,40.92l4.3,5.9l-4.3,5.9l-4.3,-5.9ZM2007.3,45.08l4.3,5.9l-4.3,5.9l-4.3,-5.9ZM2007.3,49.23l4.3,5.9l-4.3,5.9l-4.3,-5.9ZM2007.3,53.39l4.3,5.9l-4.3,5.9l-4.3,-5.9ZM2007.3,57.55l4.3,5.9l-4.3,5.9l-4.3,-5.9ZM2007.3,61.71l4.3,5.9l-4.3,5.9l-4.3,-5.9ZM2007.3,65.87l4.3,5.9l-4.3,5.9l-4.3,-5.9ZM2007.3,70.03l4.3,5.9l-4.3,5.9l-4.3,-5.9ZM2007.3,74.18l4.3,5.9l-4.3,5.9l-4.3,-5.9ZM2007.3,78.34l4.3,5.9l-4.3,5.9l-4.3,-5.9ZM2007.3,82.5l4.3,5.9l-4.3,5.9l-4.3,-5.9Z" fill="#6d6e71" />
<line x1="2007.3" y1="93.3" x2="2007.3" y2="344" stroke="#8a8b8d" stroke-width="1.5" />
<line x1="1995.8" y1="93.3" x2="2018.8" y2="93.3" stroke="#8a8b8d" stroke-width="1.5" />
<line x1="2007.3" y1="514.6" x2="2007.3" y2="596.5" stroke="#8a8b8d" stroke-width="1.5" />
<line x1="1995.8" y1="596.5" x2="2018.8" y2="596.5" stroke="#8a8b8d" stroke-width="1.5" />
<rect x="1985.55" y="345.15" width="43.5" height="168.3" fill="#f26f55" stroke="#6d6e71" stroke-width="2.3" />
<line x1="1986.7" y1="474.1" x2="2027.9" y2="474.1" stroke="#6d6e71" stroke-width="2.3" />
<path d="" fill="#6d6e71" />
<line x1="2101.4" y1="418.3" x2="2101.4" y2="590.9" stroke="#8a8b8d" stroke-width="1.5" />
<line x1="2089.9" y1="590.9" x2="2112.9" y2="590.9" stroke="#8a8b8d" stroke-width="1.5" />
<rect x="2079.65" y="41.55" width="43.5" height="375.6" fill="#ee4a3a" stroke="#6d6e71" stroke-width="2.3" />
<text x="4" y="794" font-size="35" fill="#231f20" font-weight="bold" stroke="#231f20" stroke-width="1.3">c</text>
<text x="68.1" y="802.6" font-size="28.5" fill="#231f20" textLength="432" lengthAdjust="spacingAndGlyphs" class="t">MILTON benchmark with matched</text>
<text x="145.6" y="835.2" font-size="28.5" fill="#231f20" textLength="276.6" lengthAdjust="spacingAndGlyphs" class="t">PRS (disease-specific)</text>
<text x="194.4" y="868.7" font-size="22" textLength="111" lengthAdjust="spacingAndGlyphs" class="t" fill="#231f20"><tspan font-style="italic">P</tspan> = 2.7 × 10</text>
<text x="306" y="855" font-size="15.5" fill="#231f20">−8</text>
<path d="M209.1,886.8V876.9H297.4V886.8" fill="none" stroke="#6d6e71" stroke-width="1.4" />
<line x1="173.2" y1="898.2" x2="173.2" y2="1269" stroke="#231f20" stroke-width="1.8" />
<line x1="172.3" y1="1268.1" x2="407.2" y2="1268.1" stroke="#231f20" stroke-width="1.8" />
<line x1="164" y1="899" x2="173.2" y2="899" stroke="#231f20" stroke-width="1.8" />
<text x="152.5" y="906.8" font-size="22.4" text-anchor="end" fill="#414042" class="t">1.0</text>
<line x1="164" y1="1083.55" x2="173.2" y2="1083.55" stroke="#231f20" stroke-width="1.8" />
<text x="152.5" y="1091.35" font-size="22.4" text-anchor="end" fill="#414042" class="t">0.5</text>
<line x1="164" y1="1268.1" x2="173.2" y2="1268.1" stroke="#231f20" stroke-width="1.8" />
<text x="152.5" y="1275.9" font-size="22.4" text-anchor="end" fill="#414042" class="t">0</text>
<text x="152.5" y="1054.8" font-size="22.4" text-anchor="end" fill="#d1d3d4" class="t">0.6</text>
<text transform="translate(96.5,1111.9) rotate(-90)" font-size="28.5" fill="#414042" textLength="55.4" lengthAdjust="spacingAndGlyphs" class="t">AUC</text>
<text transform="translate(45,1216.9) rotate(-90)" font-size="29.5" fill="#231f20" textLength="258.3" lengthAdjust="spacingAndGlyphs" class="t">PRS benchmarking</text>
<line x1="208.6" y1="901.5" x2="208.6" y2="972.3" stroke="#6d6e71" stroke-width="1.3" />
<line x1="208.6" y1="1031.5" x2="208.6" y2="1081.5" stroke="#6d6e71" stroke-width="1.3" />
<line x1="203.8" y1="901.5" x2="213.4" y2="901.5" stroke="#6d6e71" stroke-width="1.5" />
<line x1="203.8" y1="1081.5" x2="213.4" y2="1081.5" stroke="#6d6e71" stroke-width="1.5" />
<rect x="189.6" y="973.5" width="38" height="56.8" fill="#4e9a44" stroke="#656567" stroke-width="2.4" />
<line x1="190.8" y1="1006.2" x2="226.4" y2="1006.2" stroke="#656567" stroke-width="2.4" />
<line x1="296.2" y1="971.8" x2="296.2" y2="1013.2" stroke="#6d6e71" stroke-width="1.3" />
<line x1="296.2" y1="1044.4" x2="296.2" y2="1075" stroke="#6d6e71" stroke-width="1.3" />
<line x1="291.4" y1="971.8" x2="301" y2="971.8" stroke="#6d6e71" stroke-width="1.5" />
<line x1="291.4" y1="1075" x2="301" y2="1075" stroke="#6d6e71" stroke-width="1.5" />
<rect x="277.2" y="1014.4" width="38" height="28.8" fill="#62aed6" stroke="#656567" stroke-width="2.4" />
<line x1="278.4" y1="1026.7" x2="314" y2="1026.7" stroke="#656567" stroke-width="2.4" />
<path d="M296.2,962l3,4.3l-3,4.3l-3,-4.3ZM296.2,1085.7l3,4.3l-3,4.3l-3,-4.3ZM296.2,1092.7l3,4.3l-3,4.3l-3,-4.3Z" fill="#6d6e71" />
<rect x="210.6" y="1146" width="24.1" height="24.1" fill="#4e9a44" stroke="#414042" stroke-width="1.2" />
<rect x="210.6" y="1188.5" width="24.1" height="24.1" fill="#62aed6" stroke="#414042" stroke-width="1.2" />
<text x="243.5" y="1168" font-size="22.8" fill="#231f20" textLength="84.5" lengthAdjust="spacingAndGlyphs" class="t">67 traits</text>
<text x="243.5" y="1206.3" font-size="22.8" fill="#231f20" textLength="141.2" lengthAdjust="spacingAndGlyphs" class="t">Matched PRS</text>
<text x="243.5" y="1233.3" font-size="22.8" fill="#231f20" textLength="186.4" lengthAdjust="spacingAndGlyphs" class="t">(disease-specific)</text>
<line x1="599.4" y1="873.5" x2="599.4" y2="1231.3" stroke="#414042" stroke-width="1.5" />
<line x1="598.6" y1="1230.5" x2="680.1" y2="1230.5" stroke="#414042" stroke-width="1.5" />
<line x1="593" y1="887.2" x2="599.4" y2="887.2" stroke="#414042" stroke-width="1.4" />
<text x="582.6" y="895" font-size="22.4" text-anchor="end" fill="#58595b" class="t">0.3</text>
<line x1="593" y1="961.9" x2="599.4" y2="961.9" stroke="#414042" stroke-width="1.4" />
<text x="582.6" y="969.7" font-size="22.4" text-anchor="end" fill="#58595b" class="t">0.2</text>
<line x1="593" y1="1036.6" x2="599.4" y2="1036.6" stroke="#414042" stroke-width="1.4" />
<text x="582.6" y="1044.4" font-size="22.4" text-anchor="end" fill="#58595b" class="t">0.1</text>
<line x1="593" y1="1111.3" x2="599.4" y2="1111.3" stroke="#414042" stroke-width="1.4" />
<text x="582.6" y="1119.1" font-size="22.4" text-anchor="end" fill="#58595b" class="t">0</text>
<line x1="593" y1="1186" x2="599.4" y2="1186" stroke="#414042" stroke-width="1.4" />
<text x="582.6" y="1193.8" font-size="22.4" text-anchor="end" fill="#58595b" class="t">−0.1</text>
<line x1="643.7" y1="889.5" x2="643.7" y2="1004.5" stroke="#7a7b7d" stroke-width="1.2" />
<line x1="643.7" y1="1114.7" x2="643.7" y2="1213.7" stroke="#7a7b7d" stroke-width="1.2" />
<line x1="632.2" y1="889.5" x2="655.2" y2="889.5" stroke="#7a7b7d" stroke-width="1.4" />
<line x1="632.2" y1="1213.7" x2="655.2" y2="1213.7" stroke="#7a7b7d" stroke-width="1.4" />
<rect x="621.45" y="1005.25" width="44.5" height="108.7" fill="#545556" stroke="#656567" stroke-width="1.5" />
<line x1="621.5" y1="1041.4" x2="665.9" y2="1041.4" stroke="#d9dadb" stroke-width="2.4" />
<text transform="translate(473.8,1218.5) rotate(-90)" font-size="28" fill="#231f20" textLength="333.1" lengthAdjust="spacingAndGlyphs" class="t">Matched AUC difference</text>
<text transform="translate(521.5,1209.2) rotate(-90)" font-size="28" fill="#231f20" textLength="314.5" lengthAdjust="spacingAndGlyphs" class="t">(67 traits – matched PRS)</text>
<text x="710" y="808.8" font-size="22.8" fill="#231f20" textLength="444" lengthAdjust="spacingAndGlyphs" class="t">Insulin-dependent diabetes mellitus (E10)</text>
<text x="708.4" y="850" font-size="22.8" fill="#231f20" textLength="312.6" lengthAdjust="spacingAndGlyphs" class="t">Type 2 diabetes mellitus (E11)</text>
<text x="708.4" y="889.9" font-size="22.8" fill="#231f20" textLength="357" lengthAdjust="spacingAndGlyphs" class="t">Rheumatoid arthritis, unspecified</text>
<text x="708.4" y="916.3" font-size="22.8" fill="#231f20" textLength="280" lengthAdjust="spacingAndGlyphs" class="t">(Shoulder region; M06.91)</text>
<text x="710" y="1110.6" font-size="22.8" fill="#231f20" textLength="441.4" lengthAdjust="spacingAndGlyphs" class="t">Alzheimer disease with late onset (G30.1)</text>
<text x="710" y="1138.5" font-size="22.8" fill="#231f20" textLength="386.3" lengthAdjust="spacingAndGlyphs" class="t">Malignant neoplasm of breast (C50)</text>
<text x="710" y="1167.5" font-size="22.8" fill="#231f20" textLength="382.6" lengthAdjust="spacingAndGlyphs" class="t">Malignant melanoma of upper limb,</text>
<text x="710" y="1192.5" font-size="22.8" fill="#231f20" textLength="287.5" lengthAdjust="spacingAndGlyphs" class="t">including shoulder (C43.6)</text>
<text x="710" y="1220.4" font-size="22.8" fill="#231f20" textLength="403" lengthAdjust="spacingAndGlyphs" class="t">Malignant neoplasm of prostate (C61)</text>
<text x="710" y="1247.6" font-size="22.8" fill="#231f20" textLength="405" lengthAdjust="spacingAndGlyphs" class="t">Primary open-angle glaucoma (H40.1)</text>
<line x1="697.3" y1="808.3" x2="659.7" y2="895.4" stroke="#231f20" stroke-width="2" />
<line x1="697.3" y1="849.3" x2="659.7" y2="914" stroke="#231f20" stroke-width="2" />
<line x1="697.3" y1="889.9" x2="662.6" y2="939.4" stroke="#231f20" stroke-width="2" />
<line x1="697.3" y1="1112.5" x2="662.6" y2="1190.6" stroke="#231f20" stroke-width="2" />
<line x1="697.3" y1="1141.1" x2="662.6" y2="1201.8" stroke="#231f20" stroke-width="2" />
<line x1="697.3" y1="1176.9" x2="662.6" y2="1203.7" stroke="#231f20" stroke-width="2" />
<line x1="697.3" y1="1212.2" x2="662.6" y2="1212.2" stroke="#231f20" stroke-width="2" />
<line x1="697.3" y1="1233.4" x2="662.6" y2="1217.8" stroke="#231f20" stroke-width="2" />
<text x="1189" y="794.8" font-size="35" fill="#231f20" font-weight="bold" stroke="#231f20" stroke-width="1.3">d</text>
<text x="1477.6" y="802.3" font-size="28.5" fill="#231f20" textLength="455" lengthAdjust="spacingAndGlyphs" class="t">MILTON benchmark with 36 PRSs</text>
<text x="1324.5" y="858.8" font-size="20.5" textLength="104" lengthAdjust="spacingAndGlyphs" class="t" fill="#231f20"><tspan font-style="italic">P</tspan> = 2.2 × 10</text>
<text x="1429" y="846" font-size="14" fill="#231f20" textLength="21" lengthAdjust="spacingAndGlyphs">−82</text>
<path d="M1321.2,875.5V865.8H1415.8V875.5" fill="none" stroke="#6d6e71" stroke-width="1.4" />
<line x1="1293.3" y1="916.4" x2="1293.3" y2="1258.7" stroke="#414042" stroke-width="1.5" />
<line x1="1292.5" y1="1257.9" x2="1461.5" y2="1257.9" stroke="#414042" stroke-width="1.5" />
<line x1="1285" y1="917.3" x2="1293.3" y2="917.3" stroke="#414042" stroke-width="1.4" />
<text x="1271.6" y="925.1" font-size="22.4" text-anchor="end" fill="#414042" class="t">1.0</text>
<line x1="1285" y1="1087.6" x2="1293.3" y2="1087.6" stroke="#414042" stroke-width="1.4" />
<text x="1271.6" y="1095.4" font-size="22.4" text-anchor="end" fill="#414042" class="t">0.5</text>
<line x1="1285" y1="1257.9" x2="1293.3" y2="1257.9" stroke="#414042" stroke-width="1.4" />
<text x="1271.6" y="1265.7" font-size="22.4" text-anchor="end" fill="#414042" class="t">0</text>
<text x="1271.6" y="1061.1" font-size="22.4" text-anchor="end" fill="#d1d3d4" class="t">0.6</text>
<text transform="translate(1213,1113.6) rotate(-90)" font-size="28.5" fill="#414042" textLength="54.3" lengthAdjust="spacingAndGlyphs" class="t">AUC</text>
<path d="M1325.2,922l3.4,5l-3.4,5l-3.4,-5ZM1325.2,925.11l3.4,5l-3.4,5l-3.4,-5ZM1325.2,928.22l3.4,5l-3.4,5l-3.4,-5ZM1325.2,931.33l3.4,5l-3.4,5l-3.4,-5ZM1325.2,934.44l3.4,5l-3.4,5l-3.4,-5ZM1325.2,937.56l3.4,5l-3.4,5l-3.4,-5ZM1325.2,940.67l3.4,5l-3.4,5l-3.4,-5ZM1325.2,943.78l3.4,5l-3.4,5l-3.4,-5ZM1325.2,946.89l3.4,5l-3.4,5l-3.4,-5ZM1325.2,950l3.4,5l-3.4,5l-3.4,-5Z" fill="#6d6e71" />
<path d="M1404.6,973.5l3.4,5l-3.4,5l-3.4,-5ZM1404.6,991.6l3.4,5l-3.4,5l-3.4,-5ZM1404.6,994.63l3.4,5l-3.4,5l-3.4,-5ZM1404.6,997.66l3.4,5l-3.4,5l-3.4,-5ZM1404.6,1000.69l3.4,5l-3.4,5l-3.4,-5ZM1404.6,1003.72l3.4,5l-3.4,5l-3.4,-5ZM1404.6,1006.75l3.4,5l-3.4,5l-3.4,-5ZM1404.6,1009.78l3.4,5l-3.4,5l-3.4,-5ZM1404.6,1012.82l3.4,5l-3.4,5l-3.4,-5ZM1404.6,1015.85l3.4,5l-3.4,5l-3.4,-5ZM1404.6,1018.88l3.4,5l-3.4,5l-3.4,-5ZM1404.6,1021.91l3.4,5l-3.4,5l-3.4,-5ZM1404.6,1024.94l3.4,5l-3.4,5l-3.4,-5ZM1404.6,1027.97l3.4,5l-3.4,5l-3.4,-5ZM1404.6,1031l3.4,5l-3.4,5l-3.4,-5Z" fill="#6d6e71" />
<line x1="1325.4" y1="957.1" x2="1325.4" y2="1016.5" stroke="#6d6e71" stroke-width="1.3" />
<line x1="1325.4" y1="1059.6" x2="1325.4" y2="1099.6" stroke="#6d6e71" stroke-width="1.3" />
<line x1="1320.9" y1="957.1" x2="1329.9" y2="957.1" stroke="#6d6e71" stroke-width="1.5" />
<line x1="1320.9" y1="1099.6" x2="1329.9" y2="1099.6" stroke="#6d6e71" stroke-width="1.5" />
<rect x="1304.6" y="1017.7" width="41.6" height="40.7" fill="#4e9a44" stroke="#656567" stroke-width="2.4" />
<line x1="1305.8" y1="1040.6" x2="1345" y2="1040.6" stroke="#656567" stroke-width="2.4" />
<line x1="1404.6" y1="1038.4" x2="1404.6" y2="1062.4" stroke="#6d6e71" stroke-width="1.3" />
<line x1="1404.6" y1="1081.3" x2="1404.6" y2="1103.3" stroke="#6d6e71" stroke-width="1.3" />
<line x1="1400.1" y1="1038.4" x2="1409.1" y2="1038.4" stroke="#6d6e71" stroke-width="1.5" />
<line x1="1400.1" y1="1103.3" x2="1409.1" y2="1103.3" stroke="#6d6e71" stroke-width="1.5" />
<rect x="1383.8" y="1063.6" width="41.6" height="16.5" fill="#3477a8" stroke="#656567" stroke-width="2.4" />
<line x1="1385" y1="1072.6" x2="1424.2" y2="1072.6" stroke="#656567" stroke-width="2.4" />
<rect x="1312" y="1173.4" width="23.6" height="23.7" fill="#4e9a44" stroke="#414042" stroke-width="1.2" />
<rect x="1312" y="1215.5" width="23.6" height="23.9" fill="#3477a8" stroke="#414042" stroke-width="1.2" />
<text x="1344.8" y="1193.5" font-size="22.8" fill="#58595b" textLength="84" lengthAdjust="spacingAndGlyphs" class="t">67 traits</text>
<text x="1344.8" y="1235.8" font-size="22.8" fill="#58595b" textLength="73" lengthAdjust="spacingAndGlyphs" class="t">36 PRS</text>
<text transform="translate(1504,1222) rotate(-90)" font-size="29" fill="#231f20" textLength="334" lengthAdjust="spacingAndGlyphs" class="t">Matched AUC difference</text>
<text transform="translate(1543.5,1184.6) rotate(-90)" font-size="29" fill="#231f20" textLength="253.6" lengthAdjust="spacingAndGlyphs" class="t">(67 traits – 36 PRSs)</text>
<line x1="1630.8" y1="883.4" x2="1630.8" y2="1227" stroke="#414042" stroke-width="1.5" />
<line x1="1630" y1="1226.2" x2="1700.9" y2="1226.2" stroke="#414042" stroke-width="1.5" />
<line x1="1619" y1="921.08" x2="1630.8" y2="921.08" stroke="#414042" stroke-width="1.4" />
<text x="1607.1" y="928.88" font-size="22.4" text-anchor="end" fill="#231f20" class="t">0.4</text>
<line x1="1619" y1="1014.54" x2="1630.8" y2="1014.54" stroke="#414042" stroke-width="1.4" />
<text x="1607.1" y="1022.34" font-size="22.4" text-anchor="end" fill="#231f20" class="t">0.2</text>
<line x1="1619" y1="1108" x2="1630.8" y2="1108" stroke="#414042" stroke-width="1.4" />
<text x="1607.1" y="1115.8" font-size="22.4" text-anchor="end" fill="#231f20" class="t">0</text>
<line x1="1619" y1="1201.46" x2="1630.8" y2="1201.46" stroke="#414042" stroke-width="1.4" />
<text x="1607.1" y="1209.26" font-size="22.4" text-anchor="end" fill="#231f20" class="t">−0.2</text>
<path d="M1665.8,894.6l3.4,5l-3.4,5l-3.4,-5ZM1665.8,934.4l3.4,5l-3.4,5l-3.4,-5ZM1665.8,940.3l3.4,5l-3.4,5l-3.4,-5ZM1665.8,944.7l3.4,5l-3.4,5l-3.4,-5ZM1665.8,950.6l3.4,5l-3.4,5l-3.4,-5ZM1665.8,955l3.4,5l-3.4,5l-3.4,-5ZM1665.8,962.4l3.4,5l-3.4,5l-3.4,-5ZM1665.8,966.8l3.4,5l-3.4,5l-3.4,-5ZM1665.8,971.2l3.4,5l-3.4,5l-3.4,-5ZM1665.8,1142l3.4,5l-3.4,5l-3.4,-5ZM1665.8,1146.6l3.4,5l-3.4,5l-3.4,-5ZM1665.8,1151l3.4,5l-3.4,5l-3.4,-5ZM1665.8,1155.5l3.4,5l-3.4,5l-3.4,-5ZM1665.8,1161l3.4,5l-3.4,5l-3.4,-5ZM1665.8,1167.3l3.4,5l-3.4,5l-3.4,-5ZM1665.8,1176.1l3.4,5l-3.4,5l-3.4,-5ZM1665.8,1205.6l3.4,5l-3.4,5l-3.4,-5Z" fill="#808184" />
<line x1="1666" y1="981" x2="1666" y2="1042" stroke="#8a8b8d" stroke-width="1.2" />
<line x1="1666" y1="1084.6" x2="1666" y2="1144.5" stroke="#8a8b8d" stroke-width="1.2" />
<line x1="1656.8" y1="981" x2="1675.2" y2="981" stroke="#8a8b8d" stroke-width="1.4" />
<line x1="1656.8" y1="1144.5" x2="1675.2" y2="1144.5" stroke="#8a8b8d" stroke-width="1.4" />
<rect x="1643.4" y="1042.9" width="45.2" height="40.8" fill="#545556" stroke="#707173" stroke-width="1.8" />
<line x1="1644.5" y1="1061.7" x2="1687.5" y2="1061.7" stroke="#d9dadb" stroke-width="2.6" />
<text x="1748.6" y="848.9" font-size="22.8" fill="#231f20" textLength="337.8" lengthAdjust="spacingAndGlyphs" class="t">End-stage renal disease (N18.0)</text>
<text x="1748.6" y="889.9" font-size="22.8" fill="#231f20" textLength="404.7" lengthAdjust="spacingAndGlyphs" class="t">Polycystic kidney, unspecified (Q61.2)</text>
<text x="1748.6" y="927.6" font-size="22.8" fill="#231f20" textLength="387.9" lengthAdjust="spacingAndGlyphs" class="t">Primary hyperparathyroidism (E21.0)</text>
<text x="1748.6" y="967.4" font-size="22.8" fill="#231f20" textLength="396.8" lengthAdjust="spacingAndGlyphs" class="t">Esophageal varices without bleeding</text>
<text x="1748.6" y="996" font-size="22.8" fill="#231f20" textLength="416.5" lengthAdjust="spacingAndGlyphs" class="t">in diseases classified elsewhere (I98.2)</text>
<text x="1748.6" y="1126.6" font-size="22.8" fill="#231f20" textLength="356.1" lengthAdjust="spacingAndGlyphs" class="t">Carcinoma in situ of breast (D05)</text>
<text x="1748.6" y="1156" font-size="22.8" fill="#231f20" textLength="404.7" lengthAdjust="spacingAndGlyphs" class="t">Primary open-angle glaucoma (H40.1)</text>
<text x="1748.6" y="1187" font-size="22.8" fill="#231f20" textLength="320.7" lengthAdjust="spacingAndGlyphs" class="t">Malignant neoplasm of breast</text>
<text x="1748.6" y="1215" font-size="22.8" fill="#231f20" textLength="307.4" lengthAdjust="spacingAndGlyphs" class="t">Axillary tail of breast (C50.6)</text>
<text x="1748.6" y="1246" font-size="22.8" fill="#231f20" textLength="323.7" lengthAdjust="spacingAndGlyphs" class="t">Primary thrombophilia (D68.5)</text>
<line x1="1739.2" y1="850.4" x2="1697.9" y2="893.7" stroke="#231f20" stroke-width="2" />
<line x1="1739.2" y1="888.7" x2="1695" y2="928.5" stroke="#231f20" stroke-width="2" />
<line x1="1740.6" y1="924.6" x2="1695.8" y2="932.9" stroke="#231f20" stroke-width="2" />
<line x1="1739.2" y1="964.4" x2="1695.8" y2="939.4" stroke="#231f20" stroke-width="2" />
<line x1="1740.6" y1="1129.5" x2="1705.9" y2="1156.9" stroke="#231f20" stroke-width="2" />
<line x1="1740.6" y1="1153.1" x2="1705.9" y2="1170.8" stroke="#231f20" stroke-width="2" />
<line x1="1740.6" y1="1184.6" x2="1705.9" y2="1184.6" stroke="#231f20" stroke-width="2" />
<line x1="1740.6" y1="1228.3" x2="1705.9" y2="1213.5" stroke="#231f20" stroke-width="2" />
<text x="3" y="1354.6" font-size="35" fill="#231f20" font-weight="bold" stroke="#231f20" stroke-width="1.3">e</text>
<text x="174.7" y="1355.4" font-size="28.5" fill="#231f20" textLength="390.2" lengthAdjust="spacingAndGlyphs" class="t">MILTON benchmark with ~3k</text>
<text x="205.8" y="1389.6" font-size="28.5" fill="#231f20" textLength="321" lengthAdjust="spacingAndGlyphs" class="t">protein expression data</text>
<text x="386.3" y="1426.5" font-size="22" textLength="115" lengthAdjust="spacingAndGlyphs" class="t" fill="#231f20"><tspan font-style="italic">P</tspan> = 3.2 × 10</text>
<text x="504" y="1413" font-size="15.5" fill="#231f20">−9</text>
<text x="250.4" y="1455.6" font-size="22" textLength="115" lengthAdjust="spacingAndGlyphs" class="t" fill="#231f20"><tspan font-style="italic">P</tspan> = 8.2 × 10</text>
<text x="368" y="1442" font-size="15.5" fill="#231f20">−6</text>
<path d="M279.5,1472.3V1461.4H388.2V1472.3" fill="none" stroke="#6d6e71" stroke-width="1.4" />
<path d="M389,1446.6V1436.2H498V1446.6" fill="none" stroke="#6d6e71" stroke-width="1.4" />
<line x1="212.7" y1="1478" x2="212.7" y2="2009.7" stroke="#414042" stroke-width="1.5" />
<line x1="201.9" y1="2008.9" x2="542.3" y2="2008.9" stroke="#414042" stroke-width="1.5" />
<line x1="201.1" y1="1478.9" x2="212.7" y2="1478.9" stroke="#414042" stroke-width="1.4" />
<text x="189" y="1486.7" font-size="22.4" text-anchor="end" fill="#231f20" class="t">1.0</text>
<line x1="201.1" y1="1743.9" x2="212.7" y2="1743.9" stroke="#414042" stroke-width="1.4" />
<text x="189" y="1751.7" font-size="22.4" text-anchor="end" fill="#231f20" class="t">0.5</text>
<line x1="201.1" y1="2008.9" x2="212.7" y2="2008.9" stroke="#414042" stroke-width="1.4" />
<text x="189" y="2016.7" font-size="22.4" text-anchor="end" fill="#231f20" class="t">0</text>
<text x="189" y="1698.8" font-size="22.4" text-anchor="end" fill="#d1d3d4" class="t">0.6</text>
<text transform="translate(134,1770) rotate(-90)" font-size="28.5" fill="#231f20" textLength="54.3" lengthAdjust="spacingAndGlyphs" class="t">AUC</text>
<text transform="translate(89,1884.6) rotate(-90)" font-size="29.5" fill="#231f20" textLength="283.6" lengthAdjust="spacingAndGlyphs" class="t">UKB proteomics data</text>
<path d="M281.5,1809.2l3.8,5.5l-3.8,5.5l-3.8,-5.5ZM281.5,1487l3.8,5.5l-3.8,5.5l-3.8,-5.5ZM281.5,1489.62l3.8,5.5l-3.8,5.5l-3.8,-5.5ZM281.5,1492.25l3.8,5.5l-3.8,5.5l-3.8,-5.5ZM281.5,1494.88l3.8,5.5l-3.8,5.5l-3.8,-5.5ZM281.5,1497.5l3.8,5.5l-3.8,5.5l-3.8,-5.5Z" fill="#808184" />
<path d="M387.5,1479.2l3.8,5.5l-3.8,5.5l-3.8,-5.5ZM387.5,1482.16l3.8,5.5l-3.8,5.5l-3.8,-5.5ZM387.5,1485.12l3.8,5.5l-3.8,5.5l-3.8,-5.5ZM387.5,1488.08l3.8,5.5l-3.8,5.5l-3.8,-5.5ZM387.5,1491.04l3.8,5.5l-3.8,5.5l-3.8,-5.5ZM387.5,1494.01l3.8,5.5l-3.8,5.5l-3.8,-5.5ZM387.5,1496.97l3.8,5.5l-3.8,5.5l-3.8,-5.5ZM387.5,1499.93l3.8,5.5l-3.8,5.5l-3.8,-5.5ZM387.5,1502.89l3.8,5.5l-3.8,5.5l-3.8,-5.5ZM387.5,1505.85l3.8,5.5l-3.8,5.5l-3.8,-5.5ZM387.5,1508.81l3.8,5.5l-3.8,5.5l-3.8,-5.5ZM387.5,1511.77l3.8,5.5l-3.8,5.5l-3.8,-5.5ZM387.5,1514.73l3.8,5.5l-3.8,5.5l-3.8,-5.5ZM387.5,1517.69l3.8,5.5l-3.8,5.5l-3.8,-5.5ZM387.5,1520.66l3.8,5.5l-3.8,5.5l-3.8,-5.5ZM387.5,1523.62l3.8,5.5l-3.8,5.5l-3.8,-5.5ZM387.5,1526.58l3.8,5.5l-3.8,5.5l-3.8,-5.5ZM387.5,1529.54l3.8,5.5l-3.8,5.5l-3.8,-5.5ZM387.5,1532.5l3.8,5.5l-3.8,5.5l-3.8,-5.5Z" fill="#808184" />
<path d="M496.5,1477.3l3.8,5.5l-3.8,5.5l-3.8,-5.5ZM496.5,1480.14l3.8,5.5l-3.8,5.5l-3.8,-5.5ZM496.5,1482.98l3.8,5.5l-3.8,5.5l-3.8,-5.5ZM496.5,1485.82l3.8,5.5l-3.8,5.5l-3.8,-5.5ZM496.5,1488.66l3.8,5.5l-3.8,5.5l-3.8,-5.5ZM496.5,1491.5l3.8,5.5l-3.8,5.5l-3.8,-5.5Z" fill="#808184" />
<line x1="281.5" y1="1504.1" x2="281.5" y2="1616.7" stroke="#8a8b8d" stroke-width="1.3" />
<line x1="281.5" y1="1692.6" x2="281.5" y2="1795.3" stroke="#8a8b8d" stroke-width="1.3" />
<line x1="272.5" y1="1504.1" x2="290.5" y2="1504.1" stroke="#8a8b8d" stroke-width="1.5" />
<line x1="272.5" y1="1795.3" x2="290.5" y2="1795.3" stroke="#8a8b8d" stroke-width="1.5" />
<rect x="254.75" y="1617.85" width="53.5" height="73.6" fill="#96cce4" stroke="#767779" stroke-width="2.3" />
<line x1="255.9" y1="1651.6" x2="307.1" y2="1651.6" stroke="#767779" stroke-width="2.3" />
<line x1="387.5" y1="1539" x2="387.5" y2="1631.4" stroke="#8a8b8d" stroke-width="1.3" />
<line x1="387.5" y1="1695.8" x2="387.5" y2="1765" stroke="#8a8b8d" stroke-width="1.3" />
<line x1="378.5" y1="1539" x2="396.5" y2="1539" stroke="#8a8b8d" stroke-width="1.5" />
<line x1="378.5" y1="1765" x2="396.5" y2="1765" stroke="#8a8b8d" stroke-width="1.5" />
<rect x="360.75" y="1632.55" width="53.5" height="62.1" fill="#d3c384" stroke="#767779" stroke-width="2.3" />
<line x1="361.9" y1="1664.4" x2="413.1" y2="1664.4" stroke="#767779" stroke-width="2.3" />
<line x1="496.5" y1="1498.3" x2="496.5" y2="1611.3" stroke="#8a8b8d" stroke-width="1.3" />
<line x1="496.5" y1="1689.5" x2="496.5" y2="1788.3" stroke="#8a8b8d" stroke-width="1.3" />
<line x1="487.5" y1="1498.3" x2="505.5" y2="1498.3" stroke="#8a8b8d" stroke-width="1.5" />
<line x1="487.5" y1="1788.3" x2="505.5" y2="1788.3" stroke="#8a8b8d" stroke-width="1.5" />
<rect x="469.75" y="1612.45" width="53.5" height="75.9" fill="#c2717e" stroke="#767779" stroke-width="2.3" />
<line x1="470.9" y1="1649.7" x2="522.1" y2="1649.7" stroke="#767779" stroke-width="2.3" />
<rect x="250.4" y="1871" width="24.1" height="24" fill="#96cce4" />
<rect x="250.4" y="1911.7" width="24.1" height="24" fill="#d3c384" />
<rect x="250.4" y="1952.5" width="24.1" height="23.7" fill="#c2717e" />
<text x="286.5" y="1891.5" font-size="22.8" fill="#231f20" textLength="118.8" lengthAdjust="spacingAndGlyphs" class="t">3k proteins</text>
<text x="286.5" y="1932.2" font-size="22.8" fill="#231f20" textLength="84" lengthAdjust="spacingAndGlyphs" class="t">67 traits</text>
<text x="286.5" y="1972.2" font-size="22.8" fill="#231f20" textLength="228.7" lengthAdjust="spacingAndGlyphs" class="t">3k proteins + 67 traits</text>
<text x="821" y="1353.5" font-size="35" fill="#231f20" font-weight="bold" stroke="#231f20" stroke-width="1.3">f</text>
<text x="905.6" y="1366.3" font-size="28.5" fill="#231f20" textLength="534.8" lengthAdjust="spacingAndGlyphs" class="t">‘3k proteins + 67 traits’ versus ‘67 traits’</text>
<text x="1528.5" y="1366.3" font-size="28.5" fill="#231f20" textLength="580.1" lengthAdjust="spacingAndGlyphs" class="t">‘3k proteins + 67 traits’ versus ‘3k proteins’</text>
<line x1="936.2" y1="1422.6" x2="936.2" y2="2034" stroke="#414042" stroke-width="1.5" />
<line x1="935.4" y1="2032.9" x2="2049.6" y2="2032.9" stroke="#231f20" stroke-width="1.8" />
<line x1="926.9" y1="1521.5" x2="936.2" y2="1521.5" stroke="#414042" stroke-width="1.4" />
<text x="914.5" y="1529.3" font-size="22.4" text-anchor="end" fill="#231f20" class="t">0.2</text>
<line x1="926.9" y1="1655.4" x2="936.2" y2="1655.4" stroke="#414042" stroke-width="1.4" />
<text x="914.5" y="1663.2" font-size="22.4" text-anchor="end" fill="#231f20" class="t">0.1</text>
<line x1="926.9" y1="1789.3" x2="936.2" y2="1789.3" stroke="#414042" stroke-width="1.4" />
<text x="914.5" y="1797.1" font-size="22.4" text-anchor="end" fill="#231f20" class="t">0</text>
<line x1="926.9" y1="1923.2" x2="936.2" y2="1923.2" stroke="#414042" stroke-width="1.4" />
<text x="914.5" y="1931" font-size="22.4" text-anchor="end" fill="#231f20" class="t">−0.1</text>
<text transform="translate(846.3,1882.5) rotate(-90)" font-size="29" fill="#231f20" textLength="308.6" lengthAdjust="spacingAndGlyphs" class="t">Matched AUC difference</text>
<line x1="1048.4" y1="1654.3" x2="1048.4" y2="1734.2" stroke="#939496" stroke-width="1.2" />
<line x1="1048.4" y1="1789.3" x2="1048.4" y2="1869.7" stroke="#939496" stroke-width="1.2" />
<line x1="1030.9" y1="1654.3" x2="1065.9" y2="1654.3" stroke="#939496" stroke-width="1.4" />
<line x1="1030.9" y1="1869.7" x2="1065.9" y2="1869.7" stroke="#939496" stroke-width="1.4" />
<rect x="1013.6" y="1735.1" width="69.6" height="53.3" fill="#7569b0" stroke="#8a8b8d" stroke-width="1.8" />
<line x1="1014" y1="1762.2" x2="1083" y2="1762.2" stroke="#d9dadb" stroke-width="1.8" />
<path d="M1044.1,1453.6a4.3,4.3 0 1,0 8.6,0a4.3,4.3 0 1,0 -8.6,0ZM1044.1,1492.4a4.3,4.3 0 1,0 8.6,0a4.3,4.3 0 1,0 -8.6,0ZM1044.1,1498.2a4.3,4.3 0 1,0 8.6,0a4.3,4.3 0 1,0 -8.6,0ZM1044.1,1549.2a4.3,4.3 0 1,0 8.6,0a4.3,4.3 0 1,0 -8.6,0ZM1044.1,1556.9a4.3,4.3 0 1,0 8.6,0a4.3,4.3 0 1,0 -8.6,0ZM1044.1,1932.7a4.3,4.3 0 1,0 8.6,0a4.3,4.3 0 1,0 -8.6,0ZM1044.1,1962.4a4.3,4.3 0 1,0 8.6,0a4.3,4.3 0 1,0 -8.6,0ZM1044.1,1995.4a4.3,4.3 0 1,0 8.6,0a4.3,4.3 0 1,0 -8.6,0ZM1044.1,1563.3a4.3,4.3 0 1,0 8.6,0a4.3,4.3 0 1,0 -8.6,0ZM1044.1,1566.33a4.3,4.3 0 1,0 8.6,0a4.3,4.3 0 1,0 -8.6,0ZM1044.1,1569.35a4.3,4.3 0 1,0 8.6,0a4.3,4.3 0 1,0 -8.6,0ZM1044.1,1572.38a4.3,4.3 0 1,0 8.6,0a4.3,4.3 0 1,0 -8.6,0ZM1044.1,1575.4a4.3,4.3 0 1,0 8.6,0a4.3,4.3 0 1,0 -8.6,0ZM1044.1,1578.43a4.3,4.3 0 1,0 8.6,0a4.3,4.3 0 1,0 -8.6,0ZM1044.1,1581.45a4.3,4.3 0 1,0 8.6,0a4.3,4.3 0 1,0 -8.6,0ZM1044.1,1584.48a4.3,4.3 0 1,0 8.6,0a4.3,4.3 0 1,0 -8.6,0ZM1044.1,1587.51a4.3,4.3 0 1,0 8.6,0a4.3,4.3 0 1,0 -8.6,0ZM1044.1,1590.53a4.3,4.3 0 1,0 8.6,0a4.3,4.3 0 1,0 -8.6,0ZM1044.1,1593.56a4.3,4.3 0 1,0 8.6,0a4.3,4.3 0 1,0 -8.6,0ZM1044.1,1596.58a4.3,4.3 0 1,0 8.6,0a4.3,4.3 0 1,0 -8.6,0ZM1044.1,1599.61a4.3,4.3 0 1,0 8.6,0a4.3,4.3 0 1,0 -8.6,0ZM1044.1,1602.64a4.3,4.3 0 1,0 8.6,0a4.3,4.3 0 1,0 -8.6,0ZM1044.1,1605.66a4.3,4.3 0 1,0 8.6,0a4.3,4.3 0 1,0 -8.6,0ZM1044.1,1608.69a4.3,4.3 0 1,0 8.6,0a4.3,4.3 0 1,0 -8.6,0ZM1044.1,1611.71a4.3,4.3 0 1,0 8.6,0a4.3,4.3 0 1,0 -8.6,0ZM1044.1,1614.74a4.3,4.3 0 1,0 8.6,0a4.3,4.3 0 1,0 -8.6,0ZM1044.1,1617.76a4.3,4.3 0 1,0 8.6,0a4.3,4.3 0 1,0 -8.6,0ZM1044.1,1620.79a4.3,4.3 0 1,0 8.6,0a4.3,4.3 0 1,0 -8.6,0ZM1044.1,1623.82a4.3,4.3 0 1,0 8.6,0a4.3,4.3 0 1,0 -8.6,0ZM1044.1,1626.84a4.3,4.3 0 1,0 8.6,0a4.3,4.3 0 1,0 -8.6,0ZM1044.1,1629.87a4.3,4.3 0 1,0 8.6,0a4.3,4.3 0 1,0 -8.6,0ZM1044.1,1632.89a4.3,4.3 0 1,0 8.6,0a4.3,4.3 0 1,0 -8.6,0ZM1044.1,1635.92a4.3,4.3 0 1,0 8.6,0a4.3,4.3 0 1,0 -8.6,0ZM1044.1,1638.95a4.3,4.3 0 1,0 8.6,0a4.3,4.3 0 1,0 -8.6,0ZM1044.1,1641.97a4.3,4.3 0 1,0 8.6,0a4.3,4.3 0 1,0 -8.6,0ZM1044.1,1645a4.3,4.3 0 1,0 8.6,0a4.3,4.3 0 1,0 -8.6,0ZM1044.1,1648.02a4.3,4.3 0 1,0 8.6,0a4.3,4.3 0 1,0 -8.6,0ZM1044.1,1651.05a4.3,4.3 0 1,0 8.6,0a4.3,4.3 0 1,0 -8.6,0ZM1044.1,1654.07a4.3,4.3 0 1,0 8.6,0a4.3,4.3 0 1,0 -8.6,0ZM1044.1,1657.1a4.3,4.3 0 1,0 8.6,0a4.3,4.3 0 1,0 -8.6,0ZM1044.1,1870a4.3,4.3 0 1,0 8.6,0a4.3,4.3 0 1,0 -8.6,0ZM1044.1,1873.14a4.3,4.3 0 1,0 8.6,0a4.3,4.3 0 1,0 -8.6,0ZM1044.1,1876.29a4.3,4.3 0 1,0 8.6,0a4.3,4.3 0 1,0 -8.6,0ZM1044.1,1879.43a4.3,4.3 0 1,0 8.6,0a4.3,4.3 0 1,0 -8.6,0ZM1044.1,1882.58a4.3,4.3 0 1,0 8.6,0a4.3,4.3 0 1,0 -8.6,0ZM1044.1,1885.72a4.3,4.3 0 1,0 8.6,0a4.3,4.3 0 1,0 -8.6,0ZM1044.1,1888.86a4.3,4.3 0 1,0 8.6,0a4.3,4.3 0 1,0 -8.6,0ZM1044.1,1892.01a4.3,4.3 0 1,0 8.6,0a4.3,4.3 0 1,0 -8.6,0ZM1044.1,1895.15a4.3,4.3 0 1,0 8.6,0a4.3,4.3 0 1,0 -8.6,0ZM1044.1,1898.29a4.3,4.3 0 1,0 8.6,0a4.3,4.3 0 1,0 -8.6,0ZM1044.1,1901.44a4.3,4.3 0 1,0 8.6,0a4.3,4.3 0 1,0 -8.6,0ZM1044.1,1904.58a4.3,4.3 0 1,0 8.6,0a4.3,4.3 0 1,0 -8.6,0ZM1044.1,1907.72a4.3,4.3 0 1,0 8.6,0a4.3,4.3 0 1,0 -8.6,0ZM1044.1,1910.87a4.3,4.3 0 1,0 8.6,0a4.3,4.3 0 1,0 -8.6,0ZM1044.1,1914.01a4.3,4.3 0 1,0 8.6,0a4.3,4.3 0 1,0 -8.6,0ZM1044.1,1917.16a4.3,4.3 0 1,0 8.6,0a4.3,4.3 0 1,0 -8.6,0ZM1044.1,1920.3a4.3,4.3 0 1,0 8.6,0a4.3,4.3 0 1,0 -8.6,0Z" fill="#cbcccf" />
<line x1="1594.5" y1="1692.2" x2="1594.5" y2="1758.9" stroke="#939496" stroke-width="1.2" />
<line x1="1594.5" y1="1804.7" x2="1594.5" y2="1871.4" stroke="#939496" stroke-width="1.2" />
<line x1="1577" y1="1692.2" x2="1612" y2="1692.2" stroke="#939496" stroke-width="1.4" />
<line x1="1577" y1="1871.4" x2="1612" y2="1871.4" stroke="#939496" stroke-width="1.4" />
<rect x="1559.7" y="1759.8" width="69.6" height="44" fill="#e0832f" stroke="#8a8b8d" stroke-width="1.8" />
<line x1="1560.6" y1="1782.6" x2="1628.4" y2="1782.6" stroke="#8a8b8d" stroke-width="1.8" />
<path d="M1590.2,1542.8a4.3,4.3 0 1,0 8.6,0a4.3,4.3 0 1,0 -8.6,0ZM1590.2,1575.4a4.3,4.3 0 1,0 8.6,0a4.3,4.3 0 1,0 -8.6,0ZM1590.2,1600.2a4.3,4.3 0 1,0 8.6,0a4.3,4.3 0 1,0 -8.6,0ZM1590.2,1930.8a4.3,4.3 0 1,0 8.6,0a4.3,4.3 0 1,0 -8.6,0ZM1590.2,1945.2a4.3,4.3 0 1,0 8.6,0a4.3,4.3 0 1,0 -8.6,0ZM1590.2,1616.5a4.3,4.3 0 1,0 8.6,0a4.3,4.3 0 1,0 -8.6,0ZM1590.2,1620.4a4.3,4.3 0 1,0 8.6,0a4.3,4.3 0 1,0 -8.6,0ZM1590.2,1624.3a4.3,4.3 0 1,0 8.6,0a4.3,4.3 0 1,0 -8.6,0ZM1590.2,1628.2a4.3,4.3 0 1,0 8.6,0a4.3,4.3 0 1,0 -8.6,0ZM1590.2,1641.7a4.3,4.3 0 1,0 8.6,0a4.3,4.3 0 1,0 -8.6,0ZM1590.2,1644.86a4.3,4.3 0 1,0 8.6,0a4.3,4.3 0 1,0 -8.6,0ZM1590.2,1648.01a4.3,4.3 0 1,0 8.6,0a4.3,4.3 0 1,0 -8.6,0ZM1590.2,1651.17a4.3,4.3 0 1,0 8.6,0a4.3,4.3 0 1,0 -8.6,0ZM1590.2,1654.33a4.3,4.3 0 1,0 8.6,0a4.3,4.3 0 1,0 -8.6,0ZM1590.2,1657.48a4.3,4.3 0 1,0 8.6,0a4.3,4.3 0 1,0 -8.6,0ZM1590.2,1660.64a4.3,4.3 0 1,0 8.6,0a4.3,4.3 0 1,0 -8.6,0ZM1590.2,1663.79a4.3,4.3 0 1,0 8.6,0a4.3,4.3 0 1,0 -8.6,0ZM1590.2,1666.95a4.3,4.3 0 1,0 8.6,0a4.3,4.3 0 1,0 -8.6,0ZM1590.2,1670.11a4.3,4.3 0 1,0 8.6,0a4.3,4.3 0 1,0 -8.6,0ZM1590.2,1673.26a4.3,4.3 0 1,0 8.6,0a4.3,4.3 0 1,0 -8.6,0ZM1590.2,1676.42a4.3,4.3 0 1,0 8.6,0a4.3,4.3 0 1,0 -8.6,0ZM1590.2,1679.58a4.3,4.3 0 1,0 8.6,0a4.3,4.3 0 1,0 -8.6,0ZM1590.2,1682.73a4.3,4.3 0 1,0 8.6,0a4.3,4.3 0 1,0 -8.6,0ZM1590.2,1685.89a4.3,4.3 0 1,0 8.6,0a4.3,4.3 0 1,0 -8.6,0ZM1590.2,1689.04a4.3,4.3 0 1,0 8.6,0a4.3,4.3 0 1,0 -8.6,0ZM1590.2,1692.2a4.3,4.3 0 1,0 8.6,0a4.3,4.3 0 1,0 -8.6,0ZM1590.2,1871.4a4.3,4.3 0 1,0 8.6,0a4.3,4.3 0 1,0 -8.6,0ZM1590.2,1874.44a4.3,4.3 0 1,0 8.6,0a4.3,4.3 0 1,0 -8.6,0ZM1590.2,1877.47a4.3,4.3 0 1,0 8.6,0a4.3,4.3 0 1,0 -8.6,0ZM1590.2,1880.51a4.3,4.3 0 1,0 8.6,0a4.3,4.3 0 1,0 -8.6,0ZM1590.2,1883.54a4.3,4.3 0 1,0 8.6,0a4.3,4.3 0 1,0 -8.6,0ZM1590.2,1886.58a4.3,4.3 0 1,0 8.6,0a4.3,4.3 0 1,0 -8.6,0ZM1590.2,1889.61a4.3,4.3 0 1,0 8.6,0a4.3,4.3 0 1,0 -8.6,0ZM1590.2,1892.65a4.3,4.3 0 1,0 8.6,0a4.3,4.3 0 1,0 -8.6,0ZM1590.2,1895.68a4.3,4.3 0 1,0 8.6,0a4.3,4.3 0 1,0 -8.6,0ZM1590.2,1898.72a4.3,4.3 0 1,0 8.6,0a4.3,4.3 0 1,0 -8.6,0ZM1590.2,1901.75a4.3,4.3 0 1,0 8.6,0a4.3,4.3 0 1,0 -8.6,0ZM1590.2,1904.79a4.3,4.3 0 1,0 8.6,0a4.3,4.3 0 1,0 -8.6,0ZM1590.2,1907.82a4.3,4.3 0 1,0 8.6,0a4.3,4.3 0 1,0 -8.6,0ZM1590.2,1910.86a4.3,4.3 0 1,0 8.6,0a4.3,4.3 0 1,0 -8.6,0ZM1590.2,1913.89a4.3,4.3 0 1,0 8.6,0a4.3,4.3 0 1,0 -8.6,0ZM1590.2,1916.93a4.3,4.3 0 1,0 8.6,0a4.3,4.3 0 1,0 -8.6,0ZM1590.2,1919.96a4.3,4.3 0 1,0 8.6,0a4.3,4.3 0 1,0 -8.6,0ZM1590.2,1923a4.3,4.3 0 1,0 8.6,0a4.3,4.3 0 1,0 -8.6,0Z" fill="#cbcccf" />
<text x="1118.3" y="1432.3" font-size="22.8" fill="#231f20" textLength="282.4" lengthAdjust="spacingAndGlyphs" class="t">Multiple myeloma (C90.0)</text>
<text x="1118.3" y="1464.5" font-size="22.8" fill="#231f20" textLength="330" lengthAdjust="spacingAndGlyphs" class="t">Multiple myeloma &amp; malignant</text>
<text x="1118.3" y="1490.5" font-size="22.8" fill="#231f20" textLength="312.4" lengthAdjust="spacingAndGlyphs" class="t">plasma cell neoplasms (C90)</text>
<text x="1118.3" y="1526.2" font-size="22.8" fill="#231f20" textLength="218" lengthAdjust="spacingAndGlyphs" class="t">Malignant neoplasm</text>
<text x="1118.3" y="1553.4" font-size="22.8" fill="#231f20" textLength="178.4" lengthAdjust="spacingAndGlyphs" class="t">of prostate (C61)</text>
<text x="1118.3" y="1593.3" font-size="22.8" fill="#231f20" textLength="278" lengthAdjust="spacingAndGlyphs" class="t">Alzheimer’s disease (G30)</text>
<text x="1118.3" y="1625.5" font-size="22.8" fill="#231f20" textLength="275" lengthAdjust="spacingAndGlyphs" class="t">Chronic prostatitis (N41.1)</text>
<text x="1118.3" y="1664" font-size="22.8" fill="#231f20" textLength="314" lengthAdjust="spacingAndGlyphs" class="t">Psoriasis, unspecified (L40.9)</text>
<text x="1118.3" y="1701.2" font-size="22.8" fill="#231f20" textLength="241.3" lengthAdjust="spacingAndGlyphs" class="t">Celiac disease (K90.0)</text>
<text x="1118.3" y="1862.3" font-size="22.8" fill="#231f20" textLength="236.5" lengthAdjust="spacingAndGlyphs" class="t">Nerve root and plexus</text>
<text x="1118.3" y="1889.1" font-size="22.8" fill="#231f20" textLength="175" lengthAdjust="spacingAndGlyphs" class="t">compressions in</text>
<text x="1118.3" y="1916.3" font-size="22.8" fill="#231f20" textLength="219" lengthAdjust="spacingAndGlyphs" class="t">spondylosis (G54. 9)</text>
<text x="1118.3" y="1952.3" font-size="22.8" fill="#231f20" textLength="289" lengthAdjust="spacingAndGlyphs" class="t">Calculus in bladder (N21.0)</text>
<text x="1118.3" y="1987.3" font-size="22.8" fill="#231f20" textLength="230" lengthAdjust="spacingAndGlyphs" class="t">External hemorrhoids</text>
<text x="1118.3" y="2013.7" font-size="22.8" fill="#231f20" textLength="303" lengthAdjust="spacingAndGlyphs" class="t">without complication (I84.5)</text>
<line x1="1104.7" y1="1430.3" x2="1062.8" y2="1450.5" stroke="#231f20" stroke-width="2" />
<line x1="1104.7" y1="1463.3" x2="1062.8" y2="1484.7" stroke="#231f20" stroke-width="2" />
<line x1="1104.7" y1="1526.2" x2="1062.8" y2="1500.2" stroke="#231f20" stroke-width="2" />
<line x1="1100.8" y1="1582.9" x2="1062.8" y2="1565.4" stroke="#231f20" stroke-width="2" />
<line x1="1100.8" y1="1615.8" x2="1062.8" y2="1572" stroke="#231f20" stroke-width="2" />
<line x1="1100.8" y1="1652.3" x2="1062.8" y2="1583.6" stroke="#231f20" stroke-width="2" />
<line x1="1102.7" y1="1690.4" x2="1062.8" y2="1591.4" stroke="#231f20" stroke-width="2" />
<line x1="1108.6" y1="1903" x2="1068.6" y2="1938.8" stroke="#231f20" stroke-width="2" />
<line x1="1111.7" y1="1950.4" x2="1070.5" y2="1967.9" stroke="#231f20" stroke-width="2" />
<line x1="1111.7" y1="1990" x2="1070.5" y2="1997" stroke="#231f20" stroke-width="2" />
<text x="1669.3" y="1467.1" font-size="22.8" fill="#231f20" textLength="346" lengthAdjust="spacingAndGlyphs" class="t">Dyskinesia of esophagus (K22.4)</text>
<text x="1669.3" y="1533.1" font-size="22.8" fill="#231f20" textLength="368" lengthAdjust="spacingAndGlyphs" class="t">Nonsuppurative otitis media (H65)</text>
<text x="1669.3" y="1599" font-size="22.8" fill="#231f20" textLength="259" lengthAdjust="spacingAndGlyphs" class="t">Essential tremor (G25.0)</text>
<text x="1669.3" y="1648.7" font-size="22.8" fill="#231f20" textLength="323" lengthAdjust="spacingAndGlyphs" class="t">Benign neoplasm of other and</text>
<text x="1669.3" y="1675.9" font-size="22.8" fill="#231f20" textLength="245" lengthAdjust="spacingAndGlyphs" class="t">unspecified sites (D36)</text>
<text x="1669.3" y="1828" font-size="22.8" fill="#231f20" textLength="363" lengthAdjust="spacingAndGlyphs" class="t">Benign mammary dysplasia (N60)</text>
<text x="1669.3" y="1876.5" font-size="22.8" fill="#231f20" textLength="340" lengthAdjust="spacingAndGlyphs" class="t">Secondary malignant neoplasm</text>
<text x="1669.3" y="1902.9" font-size="22.8" fill="#231f20" textLength="259" lengthAdjust="spacingAndGlyphs" class="t">of adrenal gland (C79.7)</text>
<text x="1669.3" y="1946.3" font-size="22.8" fill="#231f20" textLength="289" lengthAdjust="spacingAndGlyphs" class="t">Calculus in bladder (N21.0)</text>
<text x="1669.3" y="1989.8" font-size="22.8" fill="#231f20" textLength="356" lengthAdjust="spacingAndGlyphs" class="t">Derangement of meniscus due to</text>
<text x="1669.3" y="2016.2" font-size="22.8" fill="#231f20" textLength="263" lengthAdjust="spacingAndGlyphs" class="t">old tear or injury (M23.2)</text>
<line x1="1655.8" y1="1467.9" x2="1613.1" y2="1538.9" stroke="#231f20" stroke-width="2" />
<line x1="1655.8" y1="1529.2" x2="1613.1" y2="1571.1" stroke="#231f20" stroke-width="2" />
<line x1="1655.8" y1="1592.5" x2="1613.1" y2="1598.3" stroke="#231f20" stroke-width="2" />
<line x1="1651.9" y1="1641" x2="1613.1" y2="1608.8" stroke="#231f20" stroke-width="2" />
<line x1="1657.7" y1="1824.9" x2="1615" y2="1925" stroke="#231f20" stroke-width="2" />
<line x1="1657.7" y1="1872.6" x2="1615" y2="1928.9" stroke="#231f20" stroke-width="2" />
<line x1="1657.7" y1="1935.5" x2="1615" y2="1938.6" stroke="#231f20" stroke-width="2" />
<line x1="1653.8" y1="1984" x2="1615" y2="1947.5" stroke="#231f20" stroke-width="2" />
<line x1="1303" y1="585.8" x2="2150" y2="585.8" stroke="#d3d4d6" stroke-width="1.8" stroke-dasharray="12.5 6.3"/>
<line x1="174.2" y1="1047" x2="332" y2="1047" stroke="#d5d6d8" stroke-width="1.8" stroke-dasharray="11.5 7.2"/>
<line x1="592" y1="1111.3" x2="686.8" y2="1111.3" stroke="#d5d6d8" stroke-width="1.8" stroke-dasharray="11.5 7.2"/>
<line x1="1295" y1="1053.3" x2="1437.3" y2="1053.3" stroke="#d5d6d8" stroke-width="1.8" stroke-dasharray="11.5 7.2"/>
<line x1="1632" y1="1108" x2="1700" y2="1108" stroke="#d5d6d8" stroke-width="1.8" stroke-dasharray="11.5 7.2"/>
<line x1="213.5" y1="1692" x2="541.6" y2="1692" stroke="#d5d6d8" stroke-width="1.8" stroke-dasharray="11.5 7.2"/>
<line x1="937" y1="1789.3" x2="2049.6" y2="1789.3" stroke="#d5d6d8" stroke-width="1.8" stroke-dasharray="11.5 7.2"/>
</svg>
</body></html>
